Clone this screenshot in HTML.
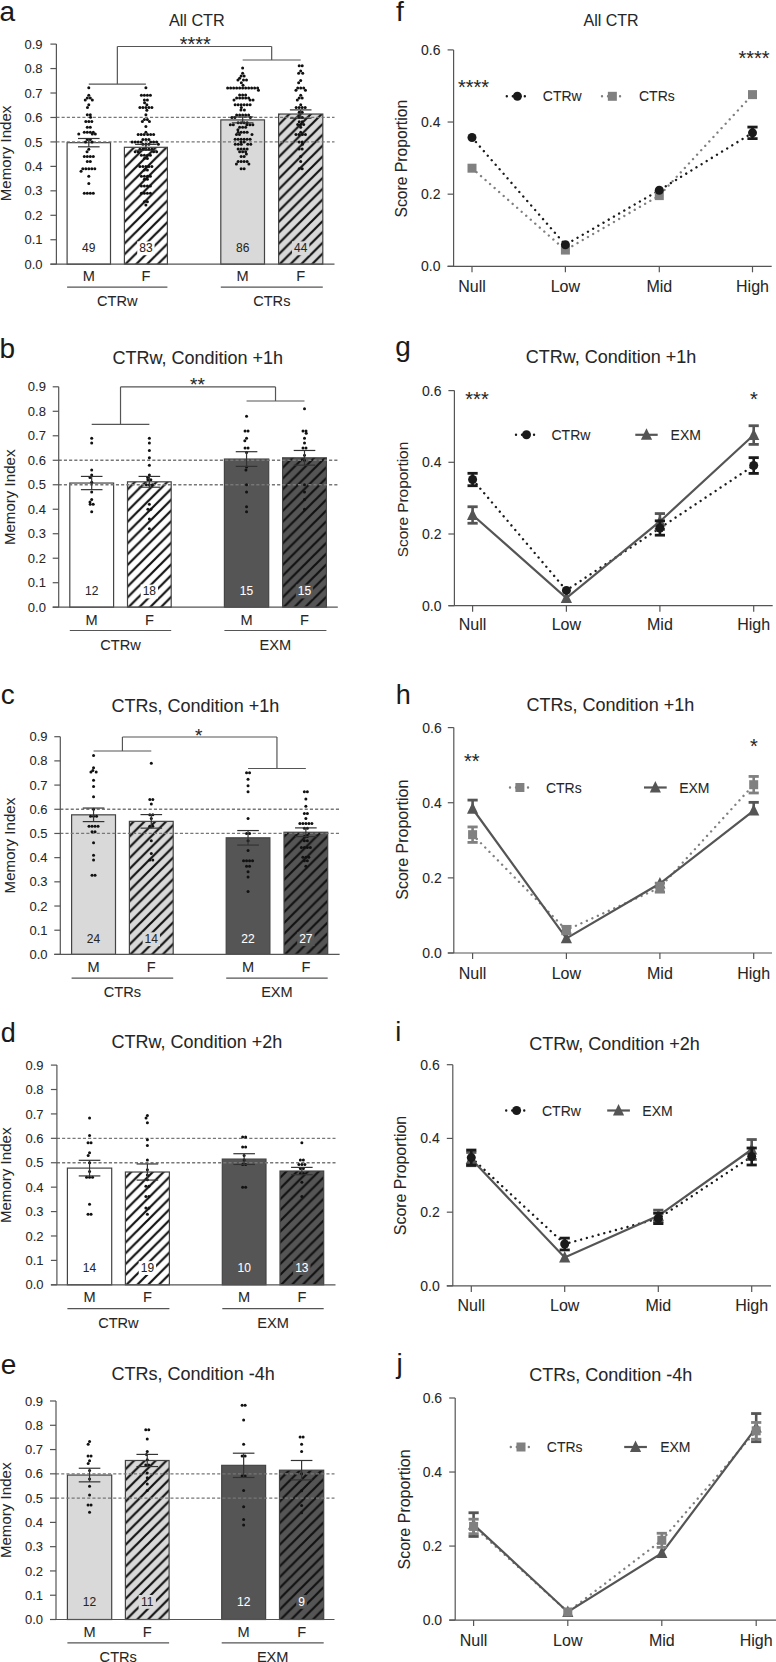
<!DOCTYPE html>
<html><head><meta charset="utf-8"><style>
html,body{margin:0;padding:0;background:#fff;}
svg{display:block;font-family:"Liberation Sans", sans-serif;}
</style></head><body>
<svg width="776" height="1662" viewBox="0 0 776 1662">
<defs>
<pattern id="hatch" patternUnits="userSpaceOnUse" width="10.8" height="10.8">
<path d="M-2.7,2.7 L2.7,-2.7 M0,10.8 L10.8,0 M8.1,13.5 L13.5,8.1" stroke="#111111" stroke-width="1.6"/>
</pattern>
</defs>
<rect width="776" height="1662" fill="#ffffff"/>
<text x="-0.40" y="20.60" font-size="28" text-anchor="start" fill="#1a1a1a" stroke="#1a1a1a" stroke-width="0.06" >a</text>
<text x="168.90" y="26.40" font-size="16.2" text-anchor="start" fill="#262626" stroke="#262626" stroke-width="0.06" >All CTR</text>
<rect x="67.10" y="142.66" width="43.40" height="121.54" fill="#ffffff"/>
<rect x="67.10" y="142.66" width="43.40" height="121.54" fill="none" stroke="#444444" stroke-width="1.2"/>
<rect x="124.40" y="147.30" width="43.00" height="116.90" fill="#ffffff"/>
<defs><pattern id="ha1" patternUnits="userSpaceOnUse" width="10.8" height="10.8" patternTransform="translate(124.40,265.20)"><path d="M-2.7,2.7 L2.7,-2.7 M0,10.8 L10.8,0 M8.1,13.5 L13.5,8.1" stroke="#111111" stroke-width="2.2"/></pattern></defs>
<rect x="124.40" y="147.30" width="43.00" height="116.90" fill="url(#ha1)"/>
<rect x="124.40" y="147.30" width="43.00" height="116.90" fill="none" stroke="#444444" stroke-width="1.2"/>
<rect x="220.80" y="119.91" width="43.70" height="144.29" fill="#d9d9d9"/>
<rect x="220.80" y="119.91" width="43.70" height="144.29" fill="none" stroke="#444444" stroke-width="1.2"/>
<rect x="278.60" y="114.04" width="44.20" height="150.16" fill="#d9d9d9"/>
<defs><pattern id="ha3" patternUnits="userSpaceOnUse" width="10.8" height="10.8" patternTransform="translate(278.60,265.20)"><path d="M-2.7,2.7 L2.7,-2.7 M0,10.8 L10.8,0 M8.1,13.5 L13.5,8.1" stroke="#111111" stroke-width="2.2"/></pattern></defs>
<rect x="278.60" y="114.04" width="44.20" height="150.16" fill="url(#ha3)"/>
<rect x="278.60" y="114.04" width="44.20" height="150.16" fill="none" stroke="#444444" stroke-width="1.2"/>
<line x1="56.40" y1="141.92" x2="334.50" y2="141.92" stroke="#777777" stroke-width="1.3" stroke-dasharray="3.1 2.1"/>
<line x1="56.40" y1="117.47" x2="334.50" y2="117.47" stroke="#777777" stroke-width="1.3" stroke-dasharray="3.1 2.1"/>
<circle cx="88.80" cy="87.63" r="1.5" fill="#111111"/>
<circle cx="88.80" cy="95.21" r="1.5" fill="#111111"/>
<circle cx="87.30" cy="97.90" r="1.5" fill="#111111"/>
<circle cx="90.30" cy="97.90" r="1.5" fill="#111111"/>
<circle cx="85.26" cy="100.10" r="1.5" fill="#111111"/>
<circle cx="92.34" cy="100.10" r="1.5" fill="#111111"/>
<circle cx="88.80" cy="104.75" r="1.5" fill="#111111"/>
<circle cx="87.47" cy="107.44" r="1.5" fill="#111111"/>
<circle cx="90.30" cy="114.78" r="1.5" fill="#111111"/>
<circle cx="87.30" cy="114.78" r="1.5" fill="#111111"/>
<circle cx="90.54" cy="117.22" r="1.5" fill="#111111"/>
<circle cx="88.80" cy="121.62" r="1.5" fill="#111111"/>
<circle cx="85.80" cy="121.62" r="1.5" fill="#111111"/>
<circle cx="91.80" cy="121.62" r="1.5" fill="#111111"/>
<circle cx="90.30" cy="127.25" r="1.5" fill="#111111"/>
<circle cx="87.30" cy="127.25" r="1.5" fill="#111111"/>
<circle cx="90.30" cy="132.14" r="1.5" fill="#111111"/>
<circle cx="87.30" cy="132.14" r="1.5" fill="#111111"/>
<circle cx="93.30" cy="132.14" r="1.5" fill="#111111"/>
<circle cx="84.30" cy="132.14" r="1.5" fill="#111111"/>
<circle cx="92.32" cy="134.10" r="1.5" fill="#111111"/>
<circle cx="78.77" cy="134.10" r="1.5" fill="#111111"/>
<circle cx="95.32" cy="134.10" r="1.5" fill="#111111"/>
<circle cx="90.30" cy="139.48" r="1.5" fill="#111111"/>
<circle cx="87.30" cy="139.48" r="1.5" fill="#111111"/>
<circle cx="92.04" cy="141.92" r="1.5" fill="#111111"/>
<circle cx="85.56" cy="141.92" r="1.5" fill="#111111"/>
<circle cx="88.80" cy="149.26" r="1.5" fill="#111111"/>
<circle cx="87.06" cy="151.70" r="1.5" fill="#111111"/>
<circle cx="90.30" cy="156.60" r="1.5" fill="#111111"/>
<circle cx="87.30" cy="156.60" r="1.5" fill="#111111"/>
<circle cx="93.30" cy="156.60" r="1.5" fill="#111111"/>
<circle cx="84.30" cy="156.60" r="1.5" fill="#111111"/>
<circle cx="90.30" cy="161.49" r="1.5" fill="#111111"/>
<circle cx="87.30" cy="161.49" r="1.5" fill="#111111"/>
<circle cx="88.80" cy="168.82" r="1.5" fill="#111111"/>
<circle cx="85.80" cy="168.82" r="1.5" fill="#111111"/>
<circle cx="91.80" cy="168.82" r="1.5" fill="#111111"/>
<circle cx="82.80" cy="168.82" r="1.5" fill="#111111"/>
<circle cx="94.80" cy="168.82" r="1.5" fill="#111111"/>
<circle cx="81.06" cy="171.27" r="1.5" fill="#111111"/>
<circle cx="88.80" cy="176.16" r="1.5" fill="#111111"/>
<circle cx="88.80" cy="183.50" r="1.5" fill="#111111"/>
<circle cx="90.30" cy="193.28" r="1.5" fill="#111111"/>
<circle cx="87.30" cy="193.28" r="1.5" fill="#111111"/>
<circle cx="93.30" cy="193.28" r="1.5" fill="#111111"/>
<circle cx="84.30" cy="193.28" r="1.5" fill="#111111"/>
<circle cx="145.90" cy="87.63" r="1.5" fill="#111111"/>
<circle cx="147.40" cy="95.21" r="1.5" fill="#111111"/>
<circle cx="144.40" cy="95.21" r="1.5" fill="#111111"/>
<circle cx="150.40" cy="95.21" r="1.5" fill="#111111"/>
<circle cx="141.40" cy="95.21" r="1.5" fill="#111111"/>
<circle cx="147.40" cy="100.10" r="1.5" fill="#111111"/>
<circle cx="144.40" cy="100.10" r="1.5" fill="#111111"/>
<circle cx="144.57" cy="102.79" r="1.5" fill="#111111"/>
<circle cx="146.85" cy="104.75" r="1.5" fill="#111111"/>
<circle cx="145.90" cy="107.44" r="1.5" fill="#111111"/>
<circle cx="148.90" cy="107.44" r="1.5" fill="#111111"/>
<circle cx="142.90" cy="107.44" r="1.5" fill="#111111"/>
<circle cx="151.90" cy="107.44" r="1.5" fill="#111111"/>
<circle cx="139.90" cy="107.44" r="1.5" fill="#111111"/>
<circle cx="146.85" cy="110.13" r="1.5" fill="#111111"/>
<circle cx="145.90" cy="114.78" r="1.5" fill="#111111"/>
<circle cx="147.40" cy="119.42" r="1.5" fill="#111111"/>
<circle cx="144.40" cy="119.42" r="1.5" fill="#111111"/>
<circle cx="149.44" cy="121.62" r="1.5" fill="#111111"/>
<circle cx="142.36" cy="121.62" r="1.5" fill="#111111"/>
<circle cx="145.90" cy="126.52" r="1.5" fill="#111111"/>
<circle cx="145.90" cy="132.14" r="1.5" fill="#111111"/>
<circle cx="144.16" cy="134.59" r="1.5" fill="#111111"/>
<circle cx="147.64" cy="134.59" r="1.5" fill="#111111"/>
<circle cx="141.16" cy="134.59" r="1.5" fill="#111111"/>
<circle cx="150.64" cy="134.59" r="1.5" fill="#111111"/>
<circle cx="138.16" cy="134.59" r="1.5" fill="#111111"/>
<circle cx="153.64" cy="134.59" r="1.5" fill="#111111"/>
<circle cx="145.90" cy="139.48" r="1.5" fill="#111111"/>
<circle cx="142.90" cy="139.48" r="1.5" fill="#111111"/>
<circle cx="148.90" cy="139.48" r="1.5" fill="#111111"/>
<circle cx="141.16" cy="141.92" r="1.5" fill="#111111"/>
<circle cx="150.64" cy="141.92" r="1.5" fill="#111111"/>
<circle cx="138.16" cy="141.92" r="1.5" fill="#111111"/>
<circle cx="153.64" cy="141.92" r="1.5" fill="#111111"/>
<circle cx="135.16" cy="141.92" r="1.5" fill="#111111"/>
<circle cx="156.64" cy="141.92" r="1.5" fill="#111111"/>
<circle cx="132.16" cy="141.92" r="1.5" fill="#111111"/>
<circle cx="145.90" cy="144.37" r="1.5" fill="#111111"/>
<circle cx="142.90" cy="144.37" r="1.5" fill="#111111"/>
<circle cx="148.90" cy="144.37" r="1.5" fill="#111111"/>
<circle cx="158.38" cy="144.37" r="1.5" fill="#111111"/>
<circle cx="145.90" cy="149.26" r="1.5" fill="#111111"/>
<circle cx="142.90" cy="149.26" r="1.5" fill="#111111"/>
<circle cx="148.90" cy="149.26" r="1.5" fill="#111111"/>
<circle cx="139.90" cy="149.26" r="1.5" fill="#111111"/>
<circle cx="151.90" cy="149.26" r="1.5" fill="#111111"/>
<circle cx="138.16" cy="151.70" r="1.5" fill="#111111"/>
<circle cx="153.64" cy="151.70" r="1.5" fill="#111111"/>
<circle cx="135.16" cy="151.70" r="1.5" fill="#111111"/>
<circle cx="156.64" cy="151.70" r="1.5" fill="#111111"/>
<circle cx="147.40" cy="155.37" r="1.5" fill="#111111"/>
<circle cx="144.40" cy="155.37" r="1.5" fill="#111111"/>
<circle cx="150.40" cy="155.37" r="1.5" fill="#111111"/>
<circle cx="141.40" cy="155.37" r="1.5" fill="#111111"/>
<circle cx="147.40" cy="158.55" r="1.5" fill="#111111"/>
<circle cx="144.40" cy="158.55" r="1.5" fill="#111111"/>
<circle cx="145.90" cy="166.38" r="1.5" fill="#111111"/>
<circle cx="142.90" cy="166.38" r="1.5" fill="#111111"/>
<circle cx="148.90" cy="166.38" r="1.5" fill="#111111"/>
<circle cx="139.90" cy="166.38" r="1.5" fill="#111111"/>
<circle cx="151.90" cy="166.38" r="1.5" fill="#111111"/>
<circle cx="147.40" cy="170.05" r="1.5" fill="#111111"/>
<circle cx="144.40" cy="170.05" r="1.5" fill="#111111"/>
<circle cx="147.40" cy="176.16" r="1.5" fill="#111111"/>
<circle cx="144.40" cy="176.16" r="1.5" fill="#111111"/>
<circle cx="150.40" cy="176.16" r="1.5" fill="#111111"/>
<circle cx="141.40" cy="176.16" r="1.5" fill="#111111"/>
<circle cx="147.40" cy="179.34" r="1.5" fill="#111111"/>
<circle cx="144.40" cy="179.34" r="1.5" fill="#111111"/>
<circle cx="147.40" cy="185.94" r="1.5" fill="#111111"/>
<circle cx="144.40" cy="185.94" r="1.5" fill="#111111"/>
<circle cx="150.40" cy="185.94" r="1.5" fill="#111111"/>
<circle cx="141.40" cy="185.94" r="1.5" fill="#111111"/>
<circle cx="147.40" cy="193.28" r="1.5" fill="#111111"/>
<circle cx="144.40" cy="193.28" r="1.5" fill="#111111"/>
<circle cx="150.40" cy="193.28" r="1.5" fill="#111111"/>
<circle cx="141.40" cy="193.28" r="1.5" fill="#111111"/>
<circle cx="147.40" cy="201.84" r="1.5" fill="#111111"/>
<circle cx="144.40" cy="201.84" r="1.5" fill="#111111"/>
<circle cx="145.90" cy="205.02" r="1.5" fill="#111111"/>
<circle cx="242.65" cy="68.07" r="1.5" fill="#111111"/>
<circle cx="242.65" cy="73.20" r="1.5" fill="#111111"/>
<circle cx="241.15" cy="75.89" r="1.5" fill="#111111"/>
<circle cx="244.15" cy="75.89" r="1.5" fill="#111111"/>
<circle cx="239.58" cy="78.34" r="1.5" fill="#111111"/>
<circle cx="243.49" cy="80.05" r="1.5" fill="#111111"/>
<circle cx="246.49" cy="80.05" r="1.5" fill="#111111"/>
<circle cx="237.96" cy="80.05" r="1.5" fill="#111111"/>
<circle cx="241.32" cy="82.74" r="1.5" fill="#111111"/>
<circle cx="243.06" cy="85.19" r="1.5" fill="#111111"/>
<circle cx="242.65" cy="87.88" r="1.5" fill="#111111"/>
<circle cx="245.65" cy="87.88" r="1.5" fill="#111111"/>
<circle cx="239.65" cy="87.88" r="1.5" fill="#111111"/>
<circle cx="248.65" cy="87.88" r="1.5" fill="#111111"/>
<circle cx="236.65" cy="87.88" r="1.5" fill="#111111"/>
<circle cx="251.65" cy="87.88" r="1.5" fill="#111111"/>
<circle cx="233.65" cy="87.88" r="1.5" fill="#111111"/>
<circle cx="254.65" cy="87.88" r="1.5" fill="#111111"/>
<circle cx="230.65" cy="87.88" r="1.5" fill="#111111"/>
<circle cx="257.65" cy="87.88" r="1.5" fill="#111111"/>
<circle cx="227.65" cy="87.88" r="1.5" fill="#111111"/>
<circle cx="258.47" cy="90.32" r="1.5" fill="#111111"/>
<circle cx="242.65" cy="94.97" r="1.5" fill="#111111"/>
<circle cx="239.65" cy="94.97" r="1.5" fill="#111111"/>
<circle cx="245.65" cy="94.97" r="1.5" fill="#111111"/>
<circle cx="242.65" cy="97.90" r="1.5" fill="#111111"/>
<circle cx="245.65" cy="97.90" r="1.5" fill="#111111"/>
<circle cx="239.65" cy="97.90" r="1.5" fill="#111111"/>
<circle cx="248.65" cy="97.90" r="1.5" fill="#111111"/>
<circle cx="236.65" cy="97.90" r="1.5" fill="#111111"/>
<circle cx="250.07" cy="100.10" r="1.5" fill="#111111"/>
<circle cx="233.99" cy="100.10" r="1.5" fill="#111111"/>
<circle cx="253.07" cy="100.10" r="1.5" fill="#111111"/>
<circle cx="244.15" cy="104.75" r="1.5" fill="#111111"/>
<circle cx="241.15" cy="104.75" r="1.5" fill="#111111"/>
<circle cx="247.15" cy="104.75" r="1.5" fill="#111111"/>
<circle cx="238.15" cy="104.75" r="1.5" fill="#111111"/>
<circle cx="250.15" cy="104.75" r="1.5" fill="#111111"/>
<circle cx="235.15" cy="104.75" r="1.5" fill="#111111"/>
<circle cx="241.32" cy="107.44" r="1.5" fill="#111111"/>
<circle cx="244.39" cy="109.89" r="1.5" fill="#111111"/>
<circle cx="240.91" cy="109.89" r="1.5" fill="#111111"/>
<circle cx="242.65" cy="115.02" r="1.5" fill="#111111"/>
<circle cx="239.65" cy="115.02" r="1.5" fill="#111111"/>
<circle cx="245.65" cy="115.02" r="1.5" fill="#111111"/>
<circle cx="236.65" cy="115.02" r="1.5" fill="#111111"/>
<circle cx="248.65" cy="115.02" r="1.5" fill="#111111"/>
<circle cx="234.91" cy="117.47" r="1.5" fill="#111111"/>
<circle cx="250.39" cy="117.47" r="1.5" fill="#111111"/>
<circle cx="231.91" cy="117.47" r="1.5" fill="#111111"/>
<circle cx="244.15" cy="122.85" r="1.5" fill="#111111"/>
<circle cx="241.15" cy="122.85" r="1.5" fill="#111111"/>
<circle cx="247.15" cy="122.85" r="1.5" fill="#111111"/>
<circle cx="238.15" cy="122.85" r="1.5" fill="#111111"/>
<circle cx="246.87" cy="124.80" r="1.5" fill="#111111"/>
<circle cx="233.32" cy="124.80" r="1.5" fill="#111111"/>
<circle cx="249.87" cy="124.80" r="1.5" fill="#111111"/>
<circle cx="230.32" cy="124.80" r="1.5" fill="#111111"/>
<circle cx="252.87" cy="124.80" r="1.5" fill="#111111"/>
<circle cx="242.65" cy="127.25" r="1.5" fill="#111111"/>
<circle cx="239.65" cy="127.25" r="1.5" fill="#111111"/>
<circle cx="245.65" cy="127.25" r="1.5" fill="#111111"/>
<circle cx="237.91" cy="129.69" r="1.5" fill="#111111"/>
<circle cx="241.15" cy="132.14" r="1.5" fill="#111111"/>
<circle cx="238.15" cy="132.14" r="1.5" fill="#111111"/>
<circle cx="244.15" cy="132.14" r="1.5" fill="#111111"/>
<circle cx="247.15" cy="132.14" r="1.5" fill="#111111"/>
<circle cx="239.49" cy="134.59" r="1.5" fill="#111111"/>
<circle cx="236.49" cy="134.59" r="1.5" fill="#111111"/>
<circle cx="251.97" cy="134.59" r="1.5" fill="#111111"/>
<circle cx="244.15" cy="139.23" r="1.5" fill="#111111"/>
<circle cx="241.15" cy="139.23" r="1.5" fill="#111111"/>
<circle cx="247.15" cy="139.23" r="1.5" fill="#111111"/>
<circle cx="238.15" cy="139.23" r="1.5" fill="#111111"/>
<circle cx="250.15" cy="139.23" r="1.5" fill="#111111"/>
<circle cx="235.15" cy="139.23" r="1.5" fill="#111111"/>
<circle cx="241.15" cy="141.92" r="1.5" fill="#111111"/>
<circle cx="244.15" cy="141.92" r="1.5" fill="#111111"/>
<circle cx="241.26" cy="144.37" r="1.5" fill="#111111"/>
<circle cx="247.74" cy="144.37" r="1.5" fill="#111111"/>
<circle cx="238.26" cy="144.37" r="1.5" fill="#111111"/>
<circle cx="250.74" cy="144.37" r="1.5" fill="#111111"/>
<circle cx="235.26" cy="144.37" r="1.5" fill="#111111"/>
<circle cx="244.15" cy="149.01" r="1.5" fill="#111111"/>
<circle cx="241.15" cy="149.01" r="1.5" fill="#111111"/>
<circle cx="247.15" cy="149.01" r="1.5" fill="#111111"/>
<circle cx="238.15" cy="149.01" r="1.5" fill="#111111"/>
<circle cx="242.65" cy="151.70" r="1.5" fill="#111111"/>
<circle cx="245.65" cy="151.70" r="1.5" fill="#111111"/>
<circle cx="239.65" cy="151.70" r="1.5" fill="#111111"/>
<circle cx="246.36" cy="153.91" r="1.5" fill="#111111"/>
<circle cx="244.15" cy="156.60" r="1.5" fill="#111111"/>
<circle cx="241.15" cy="156.60" r="1.5" fill="#111111"/>
<circle cx="244.15" cy="161.49" r="1.5" fill="#111111"/>
<circle cx="241.15" cy="161.49" r="1.5" fill="#111111"/>
<circle cx="247.15" cy="161.49" r="1.5" fill="#111111"/>
<circle cx="238.15" cy="161.49" r="1.5" fill="#111111"/>
<circle cx="248.89" cy="163.93" r="1.5" fill="#111111"/>
<circle cx="236.41" cy="163.93" r="1.5" fill="#111111"/>
<circle cx="244.15" cy="168.82" r="1.5" fill="#111111"/>
<circle cx="241.15" cy="168.82" r="1.5" fill="#111111"/>
<circle cx="302.20" cy="65.87" r="1.5" fill="#111111"/>
<circle cx="299.20" cy="65.87" r="1.5" fill="#111111"/>
<circle cx="300.70" cy="71.00" r="1.5" fill="#111111"/>
<circle cx="298.66" cy="73.20" r="1.5" fill="#111111"/>
<circle cx="302.74" cy="73.20" r="1.5" fill="#111111"/>
<circle cx="300.70" cy="80.54" r="1.5" fill="#111111"/>
<circle cx="298.66" cy="82.74" r="1.5" fill="#111111"/>
<circle cx="300.70" cy="87.88" r="1.5" fill="#111111"/>
<circle cx="297.70" cy="87.88" r="1.5" fill="#111111"/>
<circle cx="303.70" cy="87.88" r="1.5" fill="#111111"/>
<circle cx="295.96" cy="90.32" r="1.5" fill="#111111"/>
<circle cx="305.44" cy="90.32" r="1.5" fill="#111111"/>
<circle cx="300.70" cy="95.21" r="1.5" fill="#111111"/>
<circle cx="299.20" cy="97.90" r="1.5" fill="#111111"/>
<circle cx="302.20" cy="97.90" r="1.5" fill="#111111"/>
<circle cx="297.33" cy="100.10" r="1.5" fill="#111111"/>
<circle cx="300.70" cy="104.75" r="1.5" fill="#111111"/>
<circle cx="299.20" cy="107.44" r="1.5" fill="#111111"/>
<circle cx="302.20" cy="107.44" r="1.5" fill="#111111"/>
<circle cx="296.20" cy="107.44" r="1.5" fill="#111111"/>
<circle cx="305.20" cy="107.44" r="1.5" fill="#111111"/>
<circle cx="302.20" cy="112.33" r="1.5" fill="#111111"/>
<circle cx="299.20" cy="112.33" r="1.5" fill="#111111"/>
<circle cx="302.20" cy="117.47" r="1.5" fill="#111111"/>
<circle cx="299.20" cy="117.47" r="1.5" fill="#111111"/>
<circle cx="302.20" cy="121.87" r="1.5" fill="#111111"/>
<circle cx="299.20" cy="121.87" r="1.5" fill="#111111"/>
<circle cx="300.70" cy="124.56" r="1.5" fill="#111111"/>
<circle cx="303.70" cy="124.56" r="1.5" fill="#111111"/>
<circle cx="297.70" cy="124.56" r="1.5" fill="#111111"/>
<circle cx="300.70" cy="127.25" r="1.5" fill="#111111"/>
<circle cx="300.70" cy="132.14" r="1.5" fill="#111111"/>
<circle cx="298.96" cy="134.59" r="1.5" fill="#111111"/>
<circle cx="302.44" cy="134.59" r="1.5" fill="#111111"/>
<circle cx="295.96" cy="134.59" r="1.5" fill="#111111"/>
<circle cx="305.44" cy="134.59" r="1.5" fill="#111111"/>
<circle cx="302.20" cy="141.92" r="1.5" fill="#111111"/>
<circle cx="299.20" cy="141.92" r="1.5" fill="#111111"/>
<circle cx="302.44" cy="144.37" r="1.5" fill="#111111"/>
<circle cx="302.20" cy="149.01" r="1.5" fill="#111111"/>
<circle cx="299.20" cy="149.01" r="1.5" fill="#111111"/>
<circle cx="300.70" cy="156.60" r="1.5" fill="#111111"/>
<circle cx="300.70" cy="161.49" r="1.5" fill="#111111"/>
<circle cx="302.20" cy="168.82" r="1.5" fill="#111111"/>
<circle cx="299.20" cy="168.82" r="1.5" fill="#111111"/>
<line x1="88.80" y1="138.50" x2="88.80" y2="146.81" stroke="#333333" stroke-width="1.2" />
<line x1="78.00" y1="138.50" x2="99.60" y2="138.50" stroke="#333333" stroke-width="1.2" />
<line x1="78.00" y1="146.81" x2="99.60" y2="146.81" stroke="#333333" stroke-width="1.2" />
<line x1="145.90" y1="144.37" x2="145.90" y2="150.24" stroke="#333333" stroke-width="1.2" />
<line x1="135.10" y1="144.37" x2="156.70" y2="144.37" stroke="#333333" stroke-width="1.2" />
<line x1="135.10" y1="150.24" x2="156.70" y2="150.24" stroke="#333333" stroke-width="1.2" />
<line x1="242.65" y1="116.98" x2="242.65" y2="122.85" stroke="#333333" stroke-width="1.2" />
<line x1="231.85" y1="116.98" x2="253.45" y2="116.98" stroke="#333333" stroke-width="1.2" />
<line x1="231.85" y1="122.85" x2="253.45" y2="122.85" stroke="#333333" stroke-width="1.2" />
<line x1="300.70" y1="109.89" x2="300.70" y2="118.20" stroke="#333333" stroke-width="1.2" />
<line x1="289.90" y1="109.89" x2="311.50" y2="109.89" stroke="#333333" stroke-width="1.2" />
<line x1="289.90" y1="118.20" x2="311.50" y2="118.20" stroke="#333333" stroke-width="1.2" />
<text x="88.80" y="252.20" font-size="12" text-anchor="middle" fill="#262626" stroke="#262626" stroke-width="0.06" >49</text>
<rect x="137.23" y="241.40" width="17.34" height="13.80" fill="#ffffff"/>
<text x="145.90" y="252.20" font-size="12" text-anchor="middle" fill="#262626" stroke="#262626" stroke-width="0.06" >83</text>
<text x="242.65" y="252.20" font-size="12" text-anchor="middle" fill="#262626" stroke="#262626" stroke-width="0.06" >86</text>
<rect x="292.03" y="241.40" width="17.34" height="13.80" fill="#d9d9d9"/>
<text x="300.70" y="252.20" font-size="12" text-anchor="middle" fill="#262626" stroke="#262626" stroke-width="0.06" >44</text>
<line x1="56.40" y1="44.10" x2="56.40" y2="264.20" stroke="#555555" stroke-width="1.2" />
<line x1="50.40" y1="264.20" x2="56.40" y2="264.20" stroke="#555555" stroke-width="1.2" />
<text x="42.50" y="268.80" font-size="13" text-anchor="end" fill="#262626" stroke="#262626" stroke-width="0.06" >0.0</text>
<line x1="50.40" y1="239.74" x2="56.40" y2="239.74" stroke="#555555" stroke-width="1.2" />
<text x="42.50" y="244.34" font-size="13" text-anchor="end" fill="#262626" stroke="#262626" stroke-width="0.06" >0.1</text>
<line x1="50.40" y1="215.29" x2="56.40" y2="215.29" stroke="#555555" stroke-width="1.2" />
<text x="42.50" y="219.89" font-size="13" text-anchor="end" fill="#262626" stroke="#262626" stroke-width="0.06" >0.2</text>
<line x1="50.40" y1="190.83" x2="56.40" y2="190.83" stroke="#555555" stroke-width="1.2" />
<text x="42.50" y="195.43" font-size="13" text-anchor="end" fill="#262626" stroke="#262626" stroke-width="0.06" >0.3</text>
<line x1="50.40" y1="166.38" x2="56.40" y2="166.38" stroke="#555555" stroke-width="1.2" />
<text x="42.50" y="170.98" font-size="13" text-anchor="end" fill="#262626" stroke="#262626" stroke-width="0.06" >0.4</text>
<line x1="50.40" y1="141.92" x2="56.40" y2="141.92" stroke="#555555" stroke-width="1.2" />
<text x="42.50" y="146.52" font-size="13" text-anchor="end" fill="#262626" stroke="#262626" stroke-width="0.06" >0.5</text>
<line x1="50.40" y1="117.47" x2="56.40" y2="117.47" stroke="#555555" stroke-width="1.2" />
<text x="42.50" y="122.07" font-size="13" text-anchor="end" fill="#262626" stroke="#262626" stroke-width="0.06" >0.6</text>
<line x1="50.40" y1="93.01" x2="56.40" y2="93.01" stroke="#555555" stroke-width="1.2" />
<text x="42.50" y="97.61" font-size="13" text-anchor="end" fill="#262626" stroke="#262626" stroke-width="0.06" >0.7</text>
<line x1="50.40" y1="68.56" x2="56.40" y2="68.56" stroke="#555555" stroke-width="1.2" />
<text x="42.50" y="73.16" font-size="13" text-anchor="end" fill="#262626" stroke="#262626" stroke-width="0.06" >0.8</text>
<line x1="50.40" y1="44.10" x2="56.40" y2="44.10" stroke="#555555" stroke-width="1.2" />
<text x="42.50" y="48.70" font-size="13" text-anchor="end" fill="#262626" stroke="#262626" stroke-width="0.06" >0.9</text>
<line x1="50.40" y1="264.20" x2="334.50" y2="264.20" stroke="#555555" stroke-width="1.2" />
<text x="88.80" y="281.30" font-size="14.6" text-anchor="middle" fill="#262626" stroke="#262626" stroke-width="0.06" >M</text>
<text x="145.90" y="281.30" font-size="14.6" text-anchor="middle" fill="#262626" stroke="#262626" stroke-width="0.06" >F</text>
<text x="242.65" y="281.30" font-size="14.6" text-anchor="middle" fill="#262626" stroke="#262626" stroke-width="0.06" >M</text>
<text x="300.70" y="281.30" font-size="14.6" text-anchor="middle" fill="#262626" stroke="#262626" stroke-width="0.06" >F</text>
<line x1="67.10" y1="287.20" x2="167.40" y2="287.20" stroke="#555555" stroke-width="1.2" />
<text x="117.25" y="306.00" font-size="14.6" text-anchor="middle" fill="#262626" stroke="#262626" stroke-width="0.06" >CTRw</text>
<line x1="220.80" y1="287.20" x2="322.80" y2="287.20" stroke="#555555" stroke-width="1.2" />
<text x="271.80" y="306.00" font-size="14.6" text-anchor="middle" fill="#262626" stroke="#262626" stroke-width="0.06" >CTRs</text>
<text transform="translate(10.80,153.40) rotate(-90)" font-size="15.1" text-anchor="middle" fill="#262626" stroke="#262626" stroke-width="0.06">Memory Index</text>
<line x1="88.80" y1="84.10" x2="145.90" y2="84.10" stroke="#555555" stroke-width="1.2" />
<line x1="242.65" y1="60.00" x2="300.70" y2="60.00" stroke="#555555" stroke-width="1.2" />
<line x1="117.35" y1="84.10" x2="117.35" y2="46.50" stroke="#555555" stroke-width="1.2" />
<line x1="271.68" y1="60.00" x2="271.68" y2="46.50" stroke="#555555" stroke-width="1.2" />
<line x1="117.35" y1="46.50" x2="271.68" y2="46.50" stroke="#555555" stroke-width="1.2" />
<text x="195.20" y="51.10" font-size="20" text-anchor="middle" fill="#262626" stroke="#262626" stroke-width="0.06" >****</text>
<text x="-0.40" y="357.90" font-size="28" text-anchor="start" fill="#1a1a1a" stroke="#1a1a1a" stroke-width="0.06" >b</text>
<text x="112.40" y="364.00" font-size="18" text-anchor="start" fill="#262626" stroke="#262626" stroke-width="0.06" >CTRw, Condition +1h</text>
<rect x="69.80" y="483.04" width="43.80" height="124.16" fill="#ffffff"/>
<rect x="69.80" y="483.04" width="43.80" height="124.16" fill="none" stroke="#444444" stroke-width="1.2"/>
<rect x="127.50" y="481.82" width="43.70" height="125.38" fill="#ffffff"/>
<defs><pattern id="hb1" patternUnits="userSpaceOnUse" width="10.8" height="10.8" patternTransform="translate(127.50,608.20)"><path d="M-2.7,2.7 L2.7,-2.7 M0,10.8 L10.8,0 M8.1,13.5 L13.5,8.1" stroke="#111111" stroke-width="2.2"/></pattern></defs>
<rect x="127.50" y="481.82" width="43.70" height="125.38" fill="url(#hb1)"/>
<rect x="127.50" y="481.82" width="43.70" height="125.38" fill="none" stroke="#444444" stroke-width="1.2"/>
<rect x="224.40" y="459.04" width="44.30" height="148.16" fill="#555555"/>
<rect x="224.40" y="459.04" width="44.30" height="148.16" fill="none" stroke="#444444" stroke-width="1.2"/>
<rect x="282.60" y="457.82" width="43.80" height="149.38" fill="#555555"/>
<defs><pattern id="hb3" patternUnits="userSpaceOnUse" width="10.8" height="10.8" patternTransform="translate(282.60,608.20)"><path d="M-2.7,2.7 L2.7,-2.7 M0,10.8 L10.8,0 M8.1,13.5 L13.5,8.1" stroke="#111111" stroke-width="2.2"/></pattern></defs>
<rect x="282.60" y="457.82" width="43.80" height="149.38" fill="url(#hb3)"/>
<rect x="282.60" y="457.82" width="43.80" height="149.38" fill="none" stroke="#444444" stroke-width="1.2"/>
<line x1="58.70" y1="484.76" x2="337.80" y2="484.76" stroke="#777777" stroke-width="1.3" stroke-dasharray="3.1 2.1"/>
<line x1="58.70" y1="460.27" x2="337.80" y2="460.27" stroke="#777777" stroke-width="1.3" stroke-dasharray="3.1 2.1"/>
<circle cx="91.70" cy="438.23" r="1.5" fill="#111111"/>
<circle cx="91.70" cy="443.12" r="1.5" fill="#111111"/>
<circle cx="91.70" cy="470.06" r="1.5" fill="#111111"/>
<circle cx="91.70" cy="474.96" r="1.5" fill="#111111"/>
<circle cx="89.97" cy="477.41" r="1.5" fill="#111111"/>
<circle cx="91.70" cy="482.31" r="1.5" fill="#111111"/>
<circle cx="91.70" cy="492.10" r="1.5" fill="#111111"/>
<circle cx="91.70" cy="499.45" r="1.5" fill="#111111"/>
<circle cx="89.97" cy="501.90" r="1.5" fill="#111111"/>
<circle cx="90.20" cy="504.35" r="1.5" fill="#111111"/>
<circle cx="93.20" cy="504.35" r="1.5" fill="#111111"/>
<circle cx="91.70" cy="511.69" r="1.5" fill="#111111"/>
<circle cx="149.35" cy="438.23" r="1.5" fill="#111111"/>
<circle cx="149.35" cy="443.12" r="1.5" fill="#111111"/>
<circle cx="149.35" cy="450.47" r="1.5" fill="#111111"/>
<circle cx="149.35" cy="457.82" r="1.5" fill="#111111"/>
<circle cx="149.35" cy="465.16" r="1.5" fill="#111111"/>
<circle cx="149.35" cy="474.96" r="1.5" fill="#111111"/>
<circle cx="147.62" cy="477.41" r="1.5" fill="#111111"/>
<circle cx="147.85" cy="479.86" r="1.5" fill="#111111"/>
<circle cx="150.85" cy="479.86" r="1.5" fill="#111111"/>
<circle cx="149.35" cy="484.76" r="1.5" fill="#111111"/>
<circle cx="146.35" cy="484.76" r="1.5" fill="#111111"/>
<circle cx="152.35" cy="484.76" r="1.5" fill="#111111"/>
<circle cx="149.35" cy="504.35" r="1.5" fill="#111111"/>
<circle cx="150.85" cy="509.24" r="1.5" fill="#111111"/>
<circle cx="147.85" cy="509.24" r="1.5" fill="#111111"/>
<circle cx="149.35" cy="519.04" r="1.5" fill="#111111"/>
<circle cx="149.35" cy="528.84" r="1.5" fill="#111111"/>
<circle cx="246.55" cy="416.19" r="1.5" fill="#111111"/>
<circle cx="248.05" cy="430.88" r="1.5" fill="#111111"/>
<circle cx="245.05" cy="430.88" r="1.5" fill="#111111"/>
<circle cx="246.55" cy="438.23" r="1.5" fill="#111111"/>
<circle cx="244.82" cy="440.68" r="1.5" fill="#111111"/>
<circle cx="248.05" cy="448.02" r="1.5" fill="#111111"/>
<circle cx="245.05" cy="448.02" r="1.5" fill="#111111"/>
<circle cx="246.55" cy="452.43" r="1.5" fill="#111111"/>
<circle cx="246.55" cy="467.12" r="1.5" fill="#111111"/>
<circle cx="245.95" cy="470.06" r="1.5" fill="#111111"/>
<circle cx="246.55" cy="484.76" r="1.5" fill="#111111"/>
<circle cx="246.55" cy="492.10" r="1.5" fill="#111111"/>
<circle cx="246.55" cy="506.80" r="1.5" fill="#111111"/>
<circle cx="246.55" cy="511.69" r="1.5" fill="#111111"/>
<circle cx="304.50" cy="408.84" r="1.5" fill="#111111"/>
<circle cx="306.00" cy="430.88" r="1.5" fill="#111111"/>
<circle cx="303.00" cy="430.88" r="1.5" fill="#111111"/>
<circle cx="306.23" cy="433.33" r="1.5" fill="#111111"/>
<circle cx="304.50" cy="438.23" r="1.5" fill="#111111"/>
<circle cx="304.50" cy="443.12" r="1.5" fill="#111111"/>
<circle cx="306.00" cy="448.02" r="1.5" fill="#111111"/>
<circle cx="303.00" cy="448.02" r="1.5" fill="#111111"/>
<circle cx="304.50" cy="455.37" r="1.5" fill="#111111"/>
<circle cx="304.50" cy="460.27" r="1.5" fill="#111111"/>
<circle cx="304.50" cy="484.76" r="1.5" fill="#111111"/>
<circle cx="304.50" cy="492.10" r="1.5" fill="#111111"/>
<circle cx="304.50" cy="499.45" r="1.5" fill="#111111"/>
<circle cx="304.50" cy="509.24" r="1.5" fill="#111111"/>
<line x1="91.70" y1="476.43" x2="91.70" y2="489.65" stroke="#333333" stroke-width="1.2" />
<line x1="80.90" y1="476.43" x2="102.50" y2="476.43" stroke="#333333" stroke-width="1.2" />
<line x1="80.90" y1="489.65" x2="102.50" y2="489.65" stroke="#333333" stroke-width="1.2" />
<line x1="149.35" y1="476.43" x2="149.35" y2="487.20" stroke="#333333" stroke-width="1.2" />
<line x1="138.55" y1="476.43" x2="160.15" y2="476.43" stroke="#333333" stroke-width="1.2" />
<line x1="138.55" y1="487.20" x2="160.15" y2="487.20" stroke="#333333" stroke-width="1.2" />
<line x1="246.55" y1="451.70" x2="246.55" y2="466.39" stroke="#333333" stroke-width="1.2" />
<line x1="235.75" y1="451.70" x2="257.35" y2="451.70" stroke="#333333" stroke-width="1.2" />
<line x1="235.75" y1="466.39" x2="257.35" y2="466.39" stroke="#333333" stroke-width="1.2" />
<line x1="304.50" y1="450.47" x2="304.50" y2="465.16" stroke="#333333" stroke-width="1.2" />
<line x1="293.70" y1="450.47" x2="315.30" y2="450.47" stroke="#333333" stroke-width="1.2" />
<line x1="293.70" y1="465.16" x2="315.30" y2="465.16" stroke="#333333" stroke-width="1.2" />
<text x="91.70" y="595.40" font-size="12" text-anchor="middle" fill="#262626" stroke="#262626" stroke-width="0.06" >12</text>
<rect x="140.68" y="584.60" width="17.34" height="13.80" fill="#ffffff"/>
<text x="149.35" y="595.40" font-size="12" text-anchor="middle" fill="#262626" stroke="#262626" stroke-width="0.06" >18</text>
<text x="246.55" y="595.40" font-size="12" text-anchor="middle" fill="#ffffff" stroke="#ffffff" stroke-width="0.06" >15</text>
<rect x="295.83" y="584.60" width="17.34" height="13.80" fill="#555555"/>
<text x="304.50" y="595.40" font-size="12" text-anchor="middle" fill="#ffffff" stroke="#ffffff" stroke-width="0.06" >15</text>
<line x1="58.70" y1="386.80" x2="58.70" y2="607.20" stroke="#555555" stroke-width="1.2" />
<line x1="52.70" y1="607.20" x2="58.70" y2="607.20" stroke="#555555" stroke-width="1.2" />
<text x="45.90" y="611.80" font-size="13" text-anchor="end" fill="#262626" stroke="#262626" stroke-width="0.06" >0.0</text>
<line x1="52.70" y1="582.71" x2="58.70" y2="582.71" stroke="#555555" stroke-width="1.2" />
<text x="45.90" y="587.31" font-size="13" text-anchor="end" fill="#262626" stroke="#262626" stroke-width="0.06" >0.1</text>
<line x1="52.70" y1="558.22" x2="58.70" y2="558.22" stroke="#555555" stroke-width="1.2" />
<text x="45.90" y="562.82" font-size="13" text-anchor="end" fill="#262626" stroke="#262626" stroke-width="0.06" >0.2</text>
<line x1="52.70" y1="533.73" x2="58.70" y2="533.73" stroke="#555555" stroke-width="1.2" />
<text x="45.90" y="538.33" font-size="13" text-anchor="end" fill="#262626" stroke="#262626" stroke-width="0.06" >0.3</text>
<line x1="52.70" y1="509.24" x2="58.70" y2="509.24" stroke="#555555" stroke-width="1.2" />
<text x="45.90" y="513.84" font-size="13" text-anchor="end" fill="#262626" stroke="#262626" stroke-width="0.06" >0.4</text>
<line x1="52.70" y1="484.76" x2="58.70" y2="484.76" stroke="#555555" stroke-width="1.2" />
<text x="45.90" y="489.36" font-size="13" text-anchor="end" fill="#262626" stroke="#262626" stroke-width="0.06" >0.5</text>
<line x1="52.70" y1="460.27" x2="58.70" y2="460.27" stroke="#555555" stroke-width="1.2" />
<text x="45.90" y="464.87" font-size="13" text-anchor="end" fill="#262626" stroke="#262626" stroke-width="0.06" >0.6</text>
<line x1="52.70" y1="435.78" x2="58.70" y2="435.78" stroke="#555555" stroke-width="1.2" />
<text x="45.90" y="440.38" font-size="13" text-anchor="end" fill="#262626" stroke="#262626" stroke-width="0.06" >0.7</text>
<line x1="52.70" y1="411.29" x2="58.70" y2="411.29" stroke="#555555" stroke-width="1.2" />
<text x="45.90" y="415.89" font-size="13" text-anchor="end" fill="#262626" stroke="#262626" stroke-width="0.06" >0.8</text>
<line x1="52.70" y1="386.80" x2="58.70" y2="386.80" stroke="#555555" stroke-width="1.2" />
<text x="45.90" y="391.40" font-size="13" text-anchor="end" fill="#262626" stroke="#262626" stroke-width="0.06" >0.9</text>
<line x1="52.70" y1="607.20" x2="337.80" y2="607.20" stroke="#555555" stroke-width="1.2" />
<text x="91.70" y="624.50" font-size="14.6" text-anchor="middle" fill="#262626" stroke="#262626" stroke-width="0.06" >M</text>
<text x="149.35" y="624.50" font-size="14.6" text-anchor="middle" fill="#262626" stroke="#262626" stroke-width="0.06" >F</text>
<text x="246.55" y="624.50" font-size="14.6" text-anchor="middle" fill="#262626" stroke="#262626" stroke-width="0.06" >M</text>
<text x="304.50" y="624.50" font-size="14.6" text-anchor="middle" fill="#262626" stroke="#262626" stroke-width="0.06" >F</text>
<line x1="69.80" y1="630.50" x2="171.20" y2="630.50" stroke="#555555" stroke-width="1.2" />
<text x="120.50" y="649.80" font-size="14.6" text-anchor="middle" fill="#262626" stroke="#262626" stroke-width="0.06" >CTRw</text>
<line x1="224.40" y1="630.50" x2="326.40" y2="630.50" stroke="#555555" stroke-width="1.2" />
<text x="275.40" y="649.80" font-size="14.6" text-anchor="middle" fill="#262626" stroke="#262626" stroke-width="0.06" >EXM</text>
<text transform="translate(15.00,497.30) rotate(-90)" font-size="15.1" text-anchor="middle" fill="#262626" stroke="#262626" stroke-width="0.06">Memory Index</text>
<line x1="91.70" y1="424.30" x2="149.35" y2="424.30" stroke="#555555" stroke-width="1.2" />
<line x1="246.55" y1="401.00" x2="304.50" y2="401.00" stroke="#555555" stroke-width="1.2" />
<line x1="120.52" y1="424.30" x2="120.52" y2="386.90" stroke="#555555" stroke-width="1.2" />
<line x1="275.52" y1="401.00" x2="275.52" y2="386.90" stroke="#555555" stroke-width="1.2" />
<line x1="120.52" y1="386.90" x2="275.52" y2="386.90" stroke="#555555" stroke-width="1.2" />
<text x="197.40" y="391.40" font-size="19" text-anchor="middle" fill="#262626" stroke="#262626" stroke-width="0.06" >**</text>
<text x="0.80" y="704.20" font-size="28" text-anchor="start" fill="#1a1a1a" stroke="#1a1a1a" stroke-width="0.06" >c</text>
<text x="111.60" y="712.20" font-size="18" text-anchor="start" fill="#262626" stroke="#262626" stroke-width="0.06" >CTRs, Condition +1h</text>
<rect x="71.60" y="814.83" width="43.90" height="139.57" fill="#d9d9d9"/>
<rect x="71.60" y="814.83" width="43.90" height="139.57" fill="none" stroke="#444444" stroke-width="1.2"/>
<rect x="129.40" y="821.36" width="43.80" height="133.04" fill="#d9d9d9"/>
<defs><pattern id="hc1" patternUnits="userSpaceOnUse" width="10.8" height="10.8" patternTransform="translate(129.40,955.40)"><path d="M-2.7,2.7 L2.7,-2.7 M0,10.8 L10.8,0 M8.1,13.5 L13.5,8.1" stroke="#111111" stroke-width="2.2"/></pattern></defs>
<rect x="129.40" y="821.36" width="43.80" height="133.04" fill="url(#hc1)"/>
<rect x="129.40" y="821.36" width="43.80" height="133.04" fill="none" stroke="#444444" stroke-width="1.2"/>
<rect x="226.20" y="837.81" width="43.70" height="116.59" fill="#555555"/>
<rect x="226.20" y="837.81" width="43.70" height="116.59" fill="none" stroke="#444444" stroke-width="1.2"/>
<rect x="284.00" y="832.25" width="43.70" height="122.15" fill="#555555"/>
<defs><pattern id="hc3" patternUnits="userSpaceOnUse" width="10.8" height="10.8" patternTransform="translate(284.00,955.40)"><path d="M-2.7,2.7 L2.7,-2.7 M0,10.8 L10.8,0 M8.1,13.5 L13.5,8.1" stroke="#111111" stroke-width="2.2"/></pattern></defs>
<rect x="284.00" y="832.25" width="43.70" height="122.15" fill="url(#hc3)"/>
<rect x="284.00" y="832.25" width="43.70" height="122.15" fill="none" stroke="#444444" stroke-width="1.2"/>
<line x1="60.30" y1="833.46" x2="339.60" y2="833.46" stroke="#777777" stroke-width="1.3" stroke-dasharray="3.1 2.1"/>
<line x1="60.30" y1="809.27" x2="339.60" y2="809.27" stroke="#777777" stroke-width="1.3" stroke-dasharray="3.1 2.1"/>
<circle cx="93.55" cy="755.57" r="1.5" fill="#111111"/>
<circle cx="93.55" cy="767.66" r="1.5" fill="#111111"/>
<circle cx="92.79" cy="770.56" r="1.5" fill="#111111"/>
<circle cx="96.18" cy="772.02" r="1.5" fill="#111111"/>
<circle cx="90.92" cy="772.02" r="1.5" fill="#111111"/>
<circle cx="93.55" cy="780.24" r="1.5" fill="#111111"/>
<circle cx="93.55" cy="786.53" r="1.5" fill="#111111"/>
<circle cx="93.55" cy="796.69" r="1.5" fill="#111111"/>
<circle cx="93.55" cy="809.27" r="1.5" fill="#111111"/>
<circle cx="93.55" cy="816.28" r="1.5" fill="#111111"/>
<circle cx="90.55" cy="816.28" r="1.5" fill="#111111"/>
<circle cx="96.55" cy="816.28" r="1.5" fill="#111111"/>
<circle cx="95.05" cy="826.20" r="1.5" fill="#111111"/>
<circle cx="92.05" cy="826.20" r="1.5" fill="#111111"/>
<circle cx="98.05" cy="826.20" r="1.5" fill="#111111"/>
<circle cx="89.05" cy="826.20" r="1.5" fill="#111111"/>
<circle cx="95.05" cy="831.76" r="1.5" fill="#111111"/>
<circle cx="92.05" cy="831.76" r="1.5" fill="#111111"/>
<circle cx="93.55" cy="842.65" r="1.5" fill="#111111"/>
<circle cx="93.55" cy="855.23" r="1.5" fill="#111111"/>
<circle cx="93.55" cy="860.06" r="1.5" fill="#111111"/>
<circle cx="95.05" cy="875.30" r="1.5" fill="#111111"/>
<circle cx="92.05" cy="875.30" r="1.5" fill="#111111"/>
<circle cx="151.30" cy="763.31" r="1.5" fill="#111111"/>
<circle cx="152.80" cy="799.59" r="1.5" fill="#111111"/>
<circle cx="149.80" cy="799.59" r="1.5" fill="#111111"/>
<circle cx="151.30" cy="803.95" r="1.5" fill="#111111"/>
<circle cx="152.80" cy="814.83" r="1.5" fill="#111111"/>
<circle cx="149.80" cy="814.83" r="1.5" fill="#111111"/>
<circle cx="151.30" cy="818.46" r="1.5" fill="#111111"/>
<circle cx="152.80" cy="826.20" r="1.5" fill="#111111"/>
<circle cx="149.80" cy="826.20" r="1.5" fill="#111111"/>
<circle cx="151.30" cy="840.71" r="1.5" fill="#111111"/>
<circle cx="151.30" cy="853.53" r="1.5" fill="#111111"/>
<circle cx="152.80" cy="860.06" r="1.5" fill="#111111"/>
<circle cx="149.80" cy="860.06" r="1.5" fill="#111111"/>
<circle cx="249.55" cy="772.74" r="1.5" fill="#111111"/>
<circle cx="246.55" cy="772.74" r="1.5" fill="#111111"/>
<circle cx="248.05" cy="779.27" r="1.5" fill="#111111"/>
<circle cx="248.05" cy="785.80" r="1.5" fill="#111111"/>
<circle cx="248.05" cy="791.85" r="1.5" fill="#111111"/>
<circle cx="248.05" cy="818.46" r="1.5" fill="#111111"/>
<circle cx="249.55" cy="833.46" r="1.5" fill="#111111"/>
<circle cx="246.55" cy="833.46" r="1.5" fill="#111111"/>
<circle cx="248.05" cy="840.71" r="1.5" fill="#111111"/>
<circle cx="248.05" cy="850.39" r="1.5" fill="#111111"/>
<circle cx="249.55" cy="860.79" r="1.5" fill="#111111"/>
<circle cx="246.55" cy="860.79" r="1.5" fill="#111111"/>
<circle cx="252.55" cy="860.79" r="1.5" fill="#111111"/>
<circle cx="243.55" cy="860.79" r="1.5" fill="#111111"/>
<circle cx="249.55" cy="866.35" r="1.5" fill="#111111"/>
<circle cx="246.55" cy="866.35" r="1.5" fill="#111111"/>
<circle cx="248.05" cy="871.67" r="1.5" fill="#111111"/>
<circle cx="248.05" cy="877.00" r="1.5" fill="#111111"/>
<circle cx="248.05" cy="891.51" r="1.5" fill="#111111"/>
<circle cx="307.35" cy="791.85" r="1.5" fill="#111111"/>
<circle cx="304.35" cy="791.85" r="1.5" fill="#111111"/>
<circle cx="305.85" cy="799.11" r="1.5" fill="#111111"/>
<circle cx="305.85" cy="806.36" r="1.5" fill="#111111"/>
<circle cx="307.35" cy="813.62" r="1.5" fill="#111111"/>
<circle cx="304.35" cy="813.62" r="1.5" fill="#111111"/>
<circle cx="305.85" cy="818.46" r="1.5" fill="#111111"/>
<circle cx="305.85" cy="823.54" r="1.5" fill="#111111"/>
<circle cx="302.85" cy="823.54" r="1.5" fill="#111111"/>
<circle cx="308.85" cy="823.54" r="1.5" fill="#111111"/>
<circle cx="299.85" cy="823.54" r="1.5" fill="#111111"/>
<circle cx="311.85" cy="823.54" r="1.5" fill="#111111"/>
<circle cx="307.35" cy="828.13" r="1.5" fill="#111111"/>
<circle cx="304.35" cy="828.13" r="1.5" fill="#111111"/>
<circle cx="307.35" cy="836.60" r="1.5" fill="#111111"/>
<circle cx="304.35" cy="836.60" r="1.5" fill="#111111"/>
<circle cx="307.35" cy="840.71" r="1.5" fill="#111111"/>
<circle cx="304.35" cy="840.71" r="1.5" fill="#111111"/>
<circle cx="307.35" cy="847.49" r="1.5" fill="#111111"/>
<circle cx="304.35" cy="847.49" r="1.5" fill="#111111"/>
<circle cx="310.35" cy="847.49" r="1.5" fill="#111111"/>
<circle cx="301.35" cy="847.49" r="1.5" fill="#111111"/>
<circle cx="305.85" cy="857.16" r="1.5" fill="#111111"/>
<circle cx="302.85" cy="857.16" r="1.5" fill="#111111"/>
<circle cx="308.85" cy="857.16" r="1.5" fill="#111111"/>
<circle cx="307.35" cy="860.79" r="1.5" fill="#111111"/>
<circle cx="304.35" cy="860.79" r="1.5" fill="#111111"/>
<circle cx="305.85" cy="866.35" r="1.5" fill="#111111"/>
<line x1="93.55" y1="808.06" x2="93.55" y2="821.60" stroke="#333333" stroke-width="1.2" />
<line x1="82.75" y1="808.06" x2="104.35" y2="808.06" stroke="#333333" stroke-width="1.2" />
<line x1="82.75" y1="821.60" x2="104.35" y2="821.60" stroke="#333333" stroke-width="1.2" />
<line x1="151.30" y1="814.59" x2="151.30" y2="828.13" stroke="#333333" stroke-width="1.2" />
<line x1="140.50" y1="814.59" x2="162.10" y2="814.59" stroke="#333333" stroke-width="1.2" />
<line x1="140.50" y1="828.13" x2="162.10" y2="828.13" stroke="#333333" stroke-width="1.2" />
<line x1="248.05" y1="830.55" x2="248.05" y2="845.07" stroke="#333333" stroke-width="1.2" />
<line x1="237.25" y1="830.55" x2="258.85" y2="830.55" stroke="#333333" stroke-width="1.2" />
<line x1="237.25" y1="845.07" x2="258.85" y2="845.07" stroke="#333333" stroke-width="1.2" />
<line x1="305.85" y1="827.89" x2="305.85" y2="836.60" stroke="#333333" stroke-width="1.2" />
<line x1="295.05" y1="827.89" x2="316.65" y2="827.89" stroke="#333333" stroke-width="1.2" />
<line x1="295.05" y1="836.60" x2="316.65" y2="836.60" stroke="#333333" stroke-width="1.2" />
<text x="93.55" y="943.10" font-size="12" text-anchor="middle" fill="#262626" stroke="#262626" stroke-width="0.06" >24</text>
<rect x="142.63" y="932.30" width="17.34" height="13.80" fill="#d9d9d9"/>
<text x="151.30" y="943.10" font-size="12" text-anchor="middle" fill="#262626" stroke="#262626" stroke-width="0.06" >14</text>
<text x="248.05" y="943.10" font-size="12" text-anchor="middle" fill="#ffffff" stroke="#ffffff" stroke-width="0.06" >22</text>
<rect x="297.18" y="932.30" width="17.34" height="13.80" fill="#555555"/>
<text x="305.85" y="943.10" font-size="12" text-anchor="middle" fill="#ffffff" stroke="#ffffff" stroke-width="0.06" >27</text>
<line x1="60.30" y1="736.70" x2="60.30" y2="954.40" stroke="#555555" stroke-width="1.2" />
<line x1="54.30" y1="954.40" x2="60.30" y2="954.40" stroke="#555555" stroke-width="1.2" />
<text x="47.60" y="959.00" font-size="13" text-anchor="end" fill="#262626" stroke="#262626" stroke-width="0.06" >0.0</text>
<line x1="54.30" y1="930.21" x2="60.30" y2="930.21" stroke="#555555" stroke-width="1.2" />
<text x="47.60" y="934.81" font-size="13" text-anchor="end" fill="#262626" stroke="#262626" stroke-width="0.06" >0.1</text>
<line x1="54.30" y1="906.02" x2="60.30" y2="906.02" stroke="#555555" stroke-width="1.2" />
<text x="47.60" y="910.62" font-size="13" text-anchor="end" fill="#262626" stroke="#262626" stroke-width="0.06" >0.2</text>
<line x1="54.30" y1="881.83" x2="60.30" y2="881.83" stroke="#555555" stroke-width="1.2" />
<text x="47.60" y="886.43" font-size="13" text-anchor="end" fill="#262626" stroke="#262626" stroke-width="0.06" >0.3</text>
<line x1="54.30" y1="857.64" x2="60.30" y2="857.64" stroke="#555555" stroke-width="1.2" />
<text x="47.60" y="862.24" font-size="13" text-anchor="end" fill="#262626" stroke="#262626" stroke-width="0.06" >0.4</text>
<line x1="54.30" y1="833.46" x2="60.30" y2="833.46" stroke="#555555" stroke-width="1.2" />
<text x="47.60" y="838.06" font-size="13" text-anchor="end" fill="#262626" stroke="#262626" stroke-width="0.06" >0.5</text>
<line x1="54.30" y1="809.27" x2="60.30" y2="809.27" stroke="#555555" stroke-width="1.2" />
<text x="47.60" y="813.87" font-size="13" text-anchor="end" fill="#262626" stroke="#262626" stroke-width="0.06" >0.6</text>
<line x1="54.30" y1="785.08" x2="60.30" y2="785.08" stroke="#555555" stroke-width="1.2" />
<text x="47.60" y="789.68" font-size="13" text-anchor="end" fill="#262626" stroke="#262626" stroke-width="0.06" >0.7</text>
<line x1="54.30" y1="760.89" x2="60.30" y2="760.89" stroke="#555555" stroke-width="1.2" />
<text x="47.60" y="765.49" font-size="13" text-anchor="end" fill="#262626" stroke="#262626" stroke-width="0.06" >0.8</text>
<line x1="54.30" y1="736.70" x2="60.30" y2="736.70" stroke="#555555" stroke-width="1.2" />
<text x="47.60" y="741.30" font-size="13" text-anchor="end" fill="#262626" stroke="#262626" stroke-width="0.06" >0.9</text>
<line x1="54.30" y1="954.40" x2="339.60" y2="954.40" stroke="#555555" stroke-width="1.2" />
<text x="93.55" y="972.00" font-size="14.6" text-anchor="middle" fill="#262626" stroke="#262626" stroke-width="0.06" >M</text>
<text x="151.30" y="972.00" font-size="14.6" text-anchor="middle" fill="#262626" stroke="#262626" stroke-width="0.06" >F</text>
<text x="248.05" y="972.00" font-size="14.6" text-anchor="middle" fill="#262626" stroke="#262626" stroke-width="0.06" >M</text>
<text x="305.85" y="972.00" font-size="14.6" text-anchor="middle" fill="#262626" stroke="#262626" stroke-width="0.06" >F</text>
<line x1="71.60" y1="978.10" x2="173.20" y2="978.10" stroke="#555555" stroke-width="1.2" />
<text x="122.40" y="997.30" font-size="14.6" text-anchor="middle" fill="#262626" stroke="#262626" stroke-width="0.06" >CTRs</text>
<line x1="226.20" y1="978.10" x2="327.70" y2="978.10" stroke="#555555" stroke-width="1.2" />
<text x="276.95" y="997.30" font-size="14.6" text-anchor="middle" fill="#262626" stroke="#262626" stroke-width="0.06" >EXM</text>
<text transform="translate(15.30,845.60) rotate(-90)" font-size="15.1" text-anchor="middle" fill="#262626" stroke="#262626" stroke-width="0.06">Memory Index</text>
<line x1="93.55" y1="751.00" x2="151.30" y2="751.00" stroke="#555555" stroke-width="1.2" />
<line x1="248.05" y1="768.50" x2="305.85" y2="768.50" stroke="#555555" stroke-width="1.2" />
<line x1="122.43" y1="751.00" x2="122.43" y2="737.00" stroke="#555555" stroke-width="1.2" />
<line x1="276.95" y1="768.50" x2="276.95" y2="737.00" stroke="#555555" stroke-width="1.2" />
<line x1="122.43" y1="737.00" x2="276.95" y2="737.00" stroke="#555555" stroke-width="1.2" />
<text x="198.60" y="741.70" font-size="19" text-anchor="middle" fill="#262626" stroke="#262626" stroke-width="0.06" >*</text>
<text x="0.80" y="1041.60" font-size="27" text-anchor="start" fill="#1a1a1a" stroke="#1a1a1a" stroke-width="0.06" >d</text>
<text x="111.60" y="1048.40" font-size="18" text-anchor="start" fill="#262626" stroke="#262626" stroke-width="0.06" >CTRw, Condition +2h</text>
<rect x="67.40" y="1168.11" width="44.30" height="116.69" fill="#ffffff"/>
<rect x="67.40" y="1168.11" width="44.30" height="116.69" fill="none" stroke="#444444" stroke-width="1.2"/>
<rect x="125.40" y="1172.02" width="44.00" height="112.78" fill="#ffffff"/>
<defs><pattern id="hd1" patternUnits="userSpaceOnUse" width="10.8" height="10.8" patternTransform="translate(125.40,1285.80)"><path d="M-2.7,2.7 L2.7,-2.7 M0,10.8 L10.8,0 M8.1,13.5 L13.5,8.1" stroke="#111111" stroke-width="2.2"/></pattern></defs>
<rect x="125.40" y="1172.02" width="44.00" height="112.78" fill="url(#hd1)"/>
<rect x="125.40" y="1172.02" width="44.00" height="112.78" fill="none" stroke="#444444" stroke-width="1.2"/>
<rect x="222.30" y="1159.08" width="43.70" height="125.72" fill="#555555"/>
<rect x="222.30" y="1159.08" width="43.70" height="125.72" fill="none" stroke="#444444" stroke-width="1.2"/>
<rect x="280.00" y="1171.04" width="43.70" height="113.76" fill="#555555"/>
<defs><pattern id="hd3" patternUnits="userSpaceOnUse" width="10.8" height="10.8" patternTransform="translate(280.00,1285.80)"><path d="M-2.7,2.7 L2.7,-2.7 M0,10.8 L10.8,0 M8.1,13.5 L13.5,8.1" stroke="#111111" stroke-width="2.2"/></pattern></defs>
<rect x="280.00" y="1171.04" width="43.70" height="113.76" fill="url(#hd3)"/>
<rect x="280.00" y="1171.04" width="43.70" height="113.76" fill="none" stroke="#444444" stroke-width="1.2"/>
<line x1="56.90" y1="1162.74" x2="335.50" y2="1162.74" stroke="#777777" stroke-width="1.3" stroke-dasharray="3.1 2.1"/>
<line x1="56.90" y1="1138.33" x2="335.50" y2="1138.33" stroke="#777777" stroke-width="1.3" stroke-dasharray="3.1 2.1"/>
<circle cx="89.55" cy="1118.07" r="1.5" fill="#111111"/>
<circle cx="89.55" cy="1135.40" r="1.5" fill="#111111"/>
<circle cx="91.05" cy="1142.73" r="1.5" fill="#111111"/>
<circle cx="88.05" cy="1142.73" r="1.5" fill="#111111"/>
<circle cx="89.55" cy="1152.74" r="1.5" fill="#111111"/>
<circle cx="88.21" cy="1155.42" r="1.5" fill="#111111"/>
<circle cx="89.55" cy="1162.74" r="1.5" fill="#111111"/>
<circle cx="89.55" cy="1171.53" r="1.5" fill="#111111"/>
<circle cx="89.55" cy="1177.15" r="1.5" fill="#111111"/>
<circle cx="86.55" cy="1177.15" r="1.5" fill="#111111"/>
<circle cx="92.55" cy="1177.15" r="1.5" fill="#111111"/>
<circle cx="89.55" cy="1204.24" r="1.5" fill="#111111"/>
<circle cx="91.05" cy="1214.25" r="1.5" fill="#111111"/>
<circle cx="88.05" cy="1214.25" r="1.5" fill="#111111"/>
<circle cx="147.40" cy="1115.39" r="1.5" fill="#111111"/>
<circle cx="146.06" cy="1118.07" r="1.5" fill="#111111"/>
<circle cx="147.40" cy="1122.71" r="1.5" fill="#111111"/>
<circle cx="147.40" cy="1139.80" r="1.5" fill="#111111"/>
<circle cx="147.40" cy="1145.41" r="1.5" fill="#111111"/>
<circle cx="147.40" cy="1160.06" r="1.5" fill="#111111"/>
<circle cx="147.40" cy="1169.82" r="1.5" fill="#111111"/>
<circle cx="147.40" cy="1174.95" r="1.5" fill="#111111"/>
<circle cx="147.40" cy="1179.83" r="1.5" fill="#111111"/>
<circle cx="148.90" cy="1186.18" r="1.5" fill="#111111"/>
<circle cx="145.90" cy="1186.18" r="1.5" fill="#111111"/>
<circle cx="148.90" cy="1196.43" r="1.5" fill="#111111"/>
<circle cx="145.90" cy="1196.43" r="1.5" fill="#111111"/>
<circle cx="148.90" cy="1207.90" r="1.5" fill="#111111"/>
<circle cx="145.90" cy="1207.90" r="1.5" fill="#111111"/>
<circle cx="147.40" cy="1214.25" r="1.5" fill="#111111"/>
<circle cx="245.65" cy="1137.11" r="1.5" fill="#111111"/>
<circle cx="242.65" cy="1137.11" r="1.5" fill="#111111"/>
<circle cx="245.65" cy="1147.12" r="1.5" fill="#111111"/>
<circle cx="242.65" cy="1147.12" r="1.5" fill="#111111"/>
<circle cx="244.15" cy="1155.42" r="1.5" fill="#111111"/>
<circle cx="244.15" cy="1160.06" r="1.5" fill="#111111"/>
<circle cx="245.65" cy="1164.45" r="1.5" fill="#111111"/>
<circle cx="242.65" cy="1164.45" r="1.5" fill="#111111"/>
<circle cx="245.65" cy="1187.16" r="1.5" fill="#111111"/>
<circle cx="242.65" cy="1187.16" r="1.5" fill="#111111"/>
<circle cx="301.85" cy="1142.73" r="1.5" fill="#111111"/>
<circle cx="303.35" cy="1160.06" r="1.5" fill="#111111"/>
<circle cx="300.35" cy="1160.06" r="1.5" fill="#111111"/>
<circle cx="301.85" cy="1164.45" r="1.5" fill="#111111"/>
<circle cx="298.85" cy="1164.45" r="1.5" fill="#111111"/>
<circle cx="304.85" cy="1164.45" r="1.5" fill="#111111"/>
<circle cx="303.35" cy="1168.60" r="1.5" fill="#111111"/>
<circle cx="300.35" cy="1168.60" r="1.5" fill="#111111"/>
<circle cx="303.35" cy="1173.49" r="1.5" fill="#111111"/>
<circle cx="300.35" cy="1173.49" r="1.5" fill="#111111"/>
<circle cx="301.85" cy="1182.27" r="1.5" fill="#111111"/>
<circle cx="301.85" cy="1196.43" r="1.5" fill="#111111"/>
<line x1="89.55" y1="1160.30" x2="89.55" y2="1175.93" stroke="#333333" stroke-width="1.2" />
<line x1="78.75" y1="1160.30" x2="100.35" y2="1160.30" stroke="#333333" stroke-width="1.2" />
<line x1="78.75" y1="1175.93" x2="100.35" y2="1175.93" stroke="#333333" stroke-width="1.2" />
<line x1="147.40" y1="1163.96" x2="147.40" y2="1180.08" stroke="#333333" stroke-width="1.2" />
<line x1="136.60" y1="1163.96" x2="158.20" y2="1163.96" stroke="#333333" stroke-width="1.2" />
<line x1="136.60" y1="1180.08" x2="158.20" y2="1180.08" stroke="#333333" stroke-width="1.2" />
<line x1="244.15" y1="1153.71" x2="244.15" y2="1164.45" stroke="#333333" stroke-width="1.2" />
<line x1="233.35" y1="1153.71" x2="254.95" y2="1153.71" stroke="#333333" stroke-width="1.2" />
<line x1="233.35" y1="1164.45" x2="254.95" y2="1164.45" stroke="#333333" stroke-width="1.2" />
<line x1="301.85" y1="1167.38" x2="301.85" y2="1174.71" stroke="#333333" stroke-width="1.2" />
<line x1="291.05" y1="1167.38" x2="312.65" y2="1167.38" stroke="#333333" stroke-width="1.2" />
<line x1="291.05" y1="1174.71" x2="312.65" y2="1174.71" stroke="#333333" stroke-width="1.2" />
<text x="89.55" y="1272.00" font-size="12" text-anchor="middle" fill="#262626" stroke="#262626" stroke-width="0.06" >14</text>
<rect x="138.73" y="1261.20" width="17.34" height="13.80" fill="#ffffff"/>
<text x="147.40" y="1272.00" font-size="12" text-anchor="middle" fill="#262626" stroke="#262626" stroke-width="0.06" >19</text>
<text x="244.15" y="1272.00" font-size="12" text-anchor="middle" fill="#ffffff" stroke="#ffffff" stroke-width="0.06" >10</text>
<rect x="293.18" y="1261.20" width="17.34" height="13.80" fill="#555555"/>
<text x="301.85" y="1272.00" font-size="12" text-anchor="middle" fill="#ffffff" stroke="#ffffff" stroke-width="0.06" >13</text>
<line x1="56.90" y1="1065.10" x2="56.90" y2="1284.80" stroke="#555555" stroke-width="1.2" />
<line x1="50.90" y1="1284.80" x2="56.90" y2="1284.80" stroke="#555555" stroke-width="1.2" />
<text x="43.60" y="1289.40" font-size="13" text-anchor="end" fill="#262626" stroke="#262626" stroke-width="0.06" >0.0</text>
<line x1="50.90" y1="1260.39" x2="56.90" y2="1260.39" stroke="#555555" stroke-width="1.2" />
<text x="43.60" y="1264.99" font-size="13" text-anchor="end" fill="#262626" stroke="#262626" stroke-width="0.06" >0.1</text>
<line x1="50.90" y1="1235.98" x2="56.90" y2="1235.98" stroke="#555555" stroke-width="1.2" />
<text x="43.60" y="1240.58" font-size="13" text-anchor="end" fill="#262626" stroke="#262626" stroke-width="0.06" >0.2</text>
<line x1="50.90" y1="1211.57" x2="56.90" y2="1211.57" stroke="#555555" stroke-width="1.2" />
<text x="43.60" y="1216.17" font-size="13" text-anchor="end" fill="#262626" stroke="#262626" stroke-width="0.06" >0.3</text>
<line x1="50.90" y1="1187.16" x2="56.90" y2="1187.16" stroke="#555555" stroke-width="1.2" />
<text x="43.60" y="1191.76" font-size="13" text-anchor="end" fill="#262626" stroke="#262626" stroke-width="0.06" >0.4</text>
<line x1="50.90" y1="1162.74" x2="56.90" y2="1162.74" stroke="#555555" stroke-width="1.2" />
<text x="43.60" y="1167.34" font-size="13" text-anchor="end" fill="#262626" stroke="#262626" stroke-width="0.06" >0.5</text>
<line x1="50.90" y1="1138.33" x2="56.90" y2="1138.33" stroke="#555555" stroke-width="1.2" />
<text x="43.60" y="1142.93" font-size="13" text-anchor="end" fill="#262626" stroke="#262626" stroke-width="0.06" >0.6</text>
<line x1="50.90" y1="1113.92" x2="56.90" y2="1113.92" stroke="#555555" stroke-width="1.2" />
<text x="43.60" y="1118.52" font-size="13" text-anchor="end" fill="#262626" stroke="#262626" stroke-width="0.06" >0.7</text>
<line x1="50.90" y1="1089.51" x2="56.90" y2="1089.51" stroke="#555555" stroke-width="1.2" />
<text x="43.60" y="1094.11" font-size="13" text-anchor="end" fill="#262626" stroke="#262626" stroke-width="0.06" >0.8</text>
<line x1="50.90" y1="1065.10" x2="56.90" y2="1065.10" stroke="#555555" stroke-width="1.2" />
<text x="43.60" y="1069.70" font-size="13" text-anchor="end" fill="#262626" stroke="#262626" stroke-width="0.06" >0.9</text>
<line x1="50.90" y1="1284.80" x2="335.50" y2="1284.80" stroke="#555555" stroke-width="1.2" />
<text x="89.55" y="1302.30" font-size="14.6" text-anchor="middle" fill="#262626" stroke="#262626" stroke-width="0.06" >M</text>
<text x="147.40" y="1302.30" font-size="14.6" text-anchor="middle" fill="#262626" stroke="#262626" stroke-width="0.06" >F</text>
<text x="244.15" y="1302.30" font-size="14.6" text-anchor="middle" fill="#262626" stroke="#262626" stroke-width="0.06" >M</text>
<text x="301.85" y="1302.30" font-size="14.6" text-anchor="middle" fill="#262626" stroke="#262626" stroke-width="0.06" >F</text>
<line x1="67.40" y1="1308.70" x2="169.40" y2="1308.70" stroke="#555555" stroke-width="1.2" />
<text x="118.40" y="1327.60" font-size="14.6" text-anchor="middle" fill="#262626" stroke="#262626" stroke-width="0.06" >CTRw</text>
<line x1="222.30" y1="1308.70" x2="323.70" y2="1308.70" stroke="#555555" stroke-width="1.2" />
<text x="273.00" y="1327.60" font-size="14.6" text-anchor="middle" fill="#262626" stroke="#262626" stroke-width="0.06" >EXM</text>
<text transform="translate(11.20,1175.30) rotate(-90)" font-size="15.1" text-anchor="middle" fill="#262626" stroke="#262626" stroke-width="0.06">Memory Index</text>
<text x="0.80" y="1373.50" font-size="28" text-anchor="start" fill="#1a1a1a" stroke="#1a1a1a" stroke-width="0.06" >e</text>
<text x="111.60" y="1379.60" font-size="18" text-anchor="start" fill="#262626" stroke="#262626" stroke-width="0.06" >CTRs, Condition -4h</text>
<rect x="67.40" y="1475.05" width="44.30" height="144.45" fill="#d9d9d9"/>
<rect x="67.40" y="1475.05" width="44.30" height="144.45" fill="none" stroke="#444444" stroke-width="1.2"/>
<rect x="125.40" y="1460.48" width="43.70" height="159.02" fill="#d9d9d9"/>
<defs><pattern id="he1" patternUnits="userSpaceOnUse" width="10.8" height="10.8" patternTransform="translate(125.40,1620.50)"><path d="M-2.7,2.7 L2.7,-2.7 M0,10.8 L10.8,0 M8.1,13.5 L13.5,8.1" stroke="#111111" stroke-width="2.2"/></pattern></defs>
<rect x="125.40" y="1460.48" width="43.70" height="159.02" fill="url(#he1)"/>
<rect x="125.40" y="1460.48" width="43.70" height="159.02" fill="none" stroke="#444444" stroke-width="1.2"/>
<rect x="221.70" y="1465.34" width="43.90" height="154.16" fill="#555555"/>
<rect x="221.70" y="1465.34" width="43.90" height="154.16" fill="none" stroke="#444444" stroke-width="1.2"/>
<rect x="279.50" y="1470.19" width="44.20" height="149.31" fill="#555555"/>
<defs><pattern id="he3" patternUnits="userSpaceOnUse" width="10.8" height="10.8" patternTransform="translate(279.50,1620.50)"><path d="M-2.7,2.7 L2.7,-2.7 M0,10.8 L10.8,0 M8.1,13.5 L13.5,8.1" stroke="#111111" stroke-width="2.2"/></pattern></defs>
<rect x="279.50" y="1470.19" width="44.20" height="149.31" fill="url(#he3)"/>
<rect x="279.50" y="1470.19" width="44.20" height="149.31" fill="none" stroke="#444444" stroke-width="1.2"/>
<line x1="56.00" y1="1498.11" x2="334.50" y2="1498.11" stroke="#777777" stroke-width="1.3" stroke-dasharray="3.1 2.1"/>
<line x1="56.00" y1="1473.83" x2="334.50" y2="1473.83" stroke="#777777" stroke-width="1.3" stroke-dasharray="3.1 2.1"/>
<circle cx="89.55" cy="1441.54" r="1.5" fill="#111111"/>
<circle cx="88.18" cy="1444.21" r="1.5" fill="#111111"/>
<circle cx="91.05" cy="1456.11" r="1.5" fill="#111111"/>
<circle cx="88.05" cy="1456.11" r="1.5" fill="#111111"/>
<circle cx="89.55" cy="1460.72" r="1.5" fill="#111111"/>
<circle cx="88.18" cy="1463.39" r="1.5" fill="#111111"/>
<circle cx="89.55" cy="1470.43" r="1.5" fill="#111111"/>
<circle cx="89.55" cy="1478.93" r="1.5" fill="#111111"/>
<circle cx="89.55" cy="1486.21" r="1.5" fill="#111111"/>
<circle cx="89.55" cy="1494.95" r="1.5" fill="#111111"/>
<circle cx="91.05" cy="1504.91" r="1.5" fill="#111111"/>
<circle cx="88.05" cy="1504.91" r="1.5" fill="#111111"/>
<circle cx="89.55" cy="1512.19" r="1.5" fill="#111111"/>
<circle cx="148.75" cy="1429.65" r="1.5" fill="#111111"/>
<circle cx="145.75" cy="1429.65" r="1.5" fill="#111111"/>
<circle cx="147.25" cy="1439.12" r="1.5" fill="#111111"/>
<circle cx="147.25" cy="1451.50" r="1.5" fill="#111111"/>
<circle cx="146.53" cy="1454.41" r="1.5" fill="#111111"/>
<circle cx="147.25" cy="1459.75" r="1.5" fill="#111111"/>
<circle cx="148.75" cy="1465.09" r="1.5" fill="#111111"/>
<circle cx="145.75" cy="1465.09" r="1.5" fill="#111111"/>
<circle cx="147.25" cy="1473.11" r="1.5" fill="#111111"/>
<circle cx="147.25" cy="1477.72" r="1.5" fill="#111111"/>
<circle cx="147.25" cy="1484.03" r="1.5" fill="#111111"/>
<circle cx="147.25" cy="1490.59" r="1.5" fill="#111111"/>
<circle cx="245.15" cy="1405.37" r="1.5" fill="#111111"/>
<circle cx="242.15" cy="1405.37" r="1.5" fill="#111111"/>
<circle cx="243.65" cy="1419.94" r="1.5" fill="#111111"/>
<circle cx="243.65" cy="1444.21" r="1.5" fill="#111111"/>
<circle cx="245.15" cy="1456.11" r="1.5" fill="#111111"/>
<circle cx="242.15" cy="1456.11" r="1.5" fill="#111111"/>
<circle cx="245.15" cy="1476.02" r="1.5" fill="#111111"/>
<circle cx="242.15" cy="1476.02" r="1.5" fill="#111111"/>
<circle cx="243.65" cy="1490.59" r="1.5" fill="#111111"/>
<circle cx="243.65" cy="1506.85" r="1.5" fill="#111111"/>
<circle cx="243.65" cy="1519.48" r="1.5" fill="#111111"/>
<circle cx="243.65" cy="1525.06" r="1.5" fill="#111111"/>
<circle cx="303.10" cy="1436.93" r="1.5" fill="#111111"/>
<circle cx="300.10" cy="1436.93" r="1.5" fill="#111111"/>
<circle cx="301.60" cy="1444.21" r="1.5" fill="#111111"/>
<circle cx="301.60" cy="1451.50" r="1.5" fill="#111111"/>
<circle cx="301.60" cy="1473.83" r="1.5" fill="#111111"/>
<circle cx="301.60" cy="1490.83" r="1.5" fill="#111111"/>
<circle cx="301.60" cy="1505.39" r="1.5" fill="#111111"/>
<circle cx="301.60" cy="1512.68" r="1.5" fill="#111111"/>
<line x1="89.55" y1="1468.25" x2="89.55" y2="1481.85" stroke="#333333" stroke-width="1.2" />
<line x1="78.75" y1="1468.25" x2="100.35" y2="1468.25" stroke="#333333" stroke-width="1.2" />
<line x1="78.75" y1="1481.85" x2="100.35" y2="1481.85" stroke="#333333" stroke-width="1.2" />
<line x1="147.25" y1="1454.41" x2="147.25" y2="1466.55" stroke="#333333" stroke-width="1.2" />
<line x1="136.45" y1="1454.41" x2="158.05" y2="1454.41" stroke="#333333" stroke-width="1.2" />
<line x1="136.45" y1="1466.55" x2="158.05" y2="1466.55" stroke="#333333" stroke-width="1.2" />
<line x1="243.65" y1="1453.20" x2="243.65" y2="1477.47" stroke="#333333" stroke-width="1.2" />
<line x1="232.85" y1="1453.20" x2="254.45" y2="1453.20" stroke="#333333" stroke-width="1.2" />
<line x1="232.85" y1="1477.47" x2="254.45" y2="1477.47" stroke="#333333" stroke-width="1.2" />
<line x1="301.60" y1="1460.48" x2="301.60" y2="1479.90" stroke="#333333" stroke-width="1.2" />
<line x1="290.80" y1="1460.48" x2="312.40" y2="1460.48" stroke="#333333" stroke-width="1.2" />
<line x1="290.80" y1="1479.90" x2="312.40" y2="1479.90" stroke="#333333" stroke-width="1.2" />
<text x="89.55" y="1605.80" font-size="12" text-anchor="middle" fill="#262626" stroke="#262626" stroke-width="0.06" >12</text>
<rect x="138.58" y="1595.00" width="17.34" height="13.80" fill="#d9d9d9"/>
<text x="147.25" y="1605.80" font-size="12" text-anchor="middle" fill="#262626" stroke="#262626" stroke-width="0.06" >11</text>
<text x="243.65" y="1605.80" font-size="12" text-anchor="middle" fill="#ffffff" stroke="#ffffff" stroke-width="0.06" >12</text>
<rect x="296.26" y="1595.00" width="10.67" height="13.80" fill="#555555"/>
<text x="301.60" y="1605.80" font-size="12" text-anchor="middle" fill="#ffffff" stroke="#ffffff" stroke-width="0.06" >9</text>
<line x1="56.00" y1="1401.00" x2="56.00" y2="1619.50" stroke="#555555" stroke-width="1.2" />
<line x1="50.00" y1="1619.50" x2="56.00" y2="1619.50" stroke="#555555" stroke-width="1.2" />
<text x="43.00" y="1624.10" font-size="13" text-anchor="end" fill="#262626" stroke="#262626" stroke-width="0.06" >0.0</text>
<line x1="50.00" y1="1595.22" x2="56.00" y2="1595.22" stroke="#555555" stroke-width="1.2" />
<text x="43.00" y="1599.82" font-size="13" text-anchor="end" fill="#262626" stroke="#262626" stroke-width="0.06" >0.1</text>
<line x1="50.00" y1="1570.94" x2="56.00" y2="1570.94" stroke="#555555" stroke-width="1.2" />
<text x="43.00" y="1575.54" font-size="13" text-anchor="end" fill="#262626" stroke="#262626" stroke-width="0.06" >0.2</text>
<line x1="50.00" y1="1546.67" x2="56.00" y2="1546.67" stroke="#555555" stroke-width="1.2" />
<text x="43.00" y="1551.27" font-size="13" text-anchor="end" fill="#262626" stroke="#262626" stroke-width="0.06" >0.3</text>
<line x1="50.00" y1="1522.39" x2="56.00" y2="1522.39" stroke="#555555" stroke-width="1.2" />
<text x="43.00" y="1526.99" font-size="13" text-anchor="end" fill="#262626" stroke="#262626" stroke-width="0.06" >0.4</text>
<line x1="50.00" y1="1498.11" x2="56.00" y2="1498.11" stroke="#555555" stroke-width="1.2" />
<text x="43.00" y="1502.71" font-size="13" text-anchor="end" fill="#262626" stroke="#262626" stroke-width="0.06" >0.5</text>
<line x1="50.00" y1="1473.83" x2="56.00" y2="1473.83" stroke="#555555" stroke-width="1.2" />
<text x="43.00" y="1478.43" font-size="13" text-anchor="end" fill="#262626" stroke="#262626" stroke-width="0.06" >0.6</text>
<line x1="50.00" y1="1449.56" x2="56.00" y2="1449.56" stroke="#555555" stroke-width="1.2" />
<text x="43.00" y="1454.16" font-size="13" text-anchor="end" fill="#262626" stroke="#262626" stroke-width="0.06" >0.7</text>
<line x1="50.00" y1="1425.28" x2="56.00" y2="1425.28" stroke="#555555" stroke-width="1.2" />
<text x="43.00" y="1429.88" font-size="13" text-anchor="end" fill="#262626" stroke="#262626" stroke-width="0.06" >0.8</text>
<line x1="50.00" y1="1401.00" x2="56.00" y2="1401.00" stroke="#555555" stroke-width="1.2" />
<text x="43.00" y="1405.60" font-size="13" text-anchor="end" fill="#262626" stroke="#262626" stroke-width="0.06" >0.9</text>
<line x1="50.00" y1="1619.50" x2="334.50" y2="1619.50" stroke="#555555" stroke-width="1.2" />
<text x="89.55" y="1636.50" font-size="14.6" text-anchor="middle" fill="#262626" stroke="#262626" stroke-width="0.06" >M</text>
<text x="147.25" y="1636.50" font-size="14.6" text-anchor="middle" fill="#262626" stroke="#262626" stroke-width="0.06" >F</text>
<text x="243.65" y="1636.50" font-size="14.6" text-anchor="middle" fill="#262626" stroke="#262626" stroke-width="0.06" >M</text>
<text x="301.60" y="1636.50" font-size="14.6" text-anchor="middle" fill="#262626" stroke="#262626" stroke-width="0.06" >F</text>
<line x1="67.40" y1="1642.80" x2="169.10" y2="1642.80" stroke="#555555" stroke-width="1.2" />
<text x="118.25" y="1661.50" font-size="14.6" text-anchor="middle" fill="#262626" stroke="#262626" stroke-width="0.06" >CTRs</text>
<line x1="221.70" y1="1642.80" x2="323.70" y2="1642.80" stroke="#555555" stroke-width="1.2" />
<text x="272.70" y="1661.50" font-size="14.6" text-anchor="middle" fill="#262626" stroke="#262626" stroke-width="0.06" >EXM</text>
<text transform="translate(11.20,1510.30) rotate(-90)" font-size="15.1" text-anchor="middle" fill="#262626" stroke="#262626" stroke-width="0.06">Memory Index</text>
<text x="396.00" y="20.60" font-size="28" text-anchor="start" fill="#1a1a1a" stroke="#1a1a1a" stroke-width="0.06" >f</text>
<text x="583.50" y="26.40" font-size="16" text-anchor="start" fill="#262626" stroke="#262626" stroke-width="0.06" >All CTR</text>
<polyline points="472.00,137.54 565.40,244.80 659.30,190.20 752.50,132.85" fill="none" stroke="#1a1a1a" stroke-width="2.4" stroke-dasharray="0.01 6" stroke-linecap="round"/>
<polyline points="472.00,168.20 565.40,250.07 659.30,195.61 752.50,94.62" fill="none" stroke="#808080" stroke-width="2.4" stroke-dasharray="0.01 6" stroke-linecap="round"/>
<rect x="467.50" y="163.70" width="9" height="9" fill="#808080"/>
<rect x="560.90" y="245.57" width="9" height="9" fill="#808080"/>
<rect x="654.80" y="191.11" width="9" height="9" fill="#808080"/>
<rect x="748.00" y="90.12" width="9" height="9" fill="#808080"/>
<circle cx="472.00" cy="137.54" r="4.5" fill="#1a1a1a"/>
<circle cx="565.40" cy="244.80" r="4.5" fill="#1a1a1a"/>
<circle cx="659.30" cy="190.20" r="4.5" fill="#1a1a1a"/>
<line x1="752.50" y1="127.08" x2="752.50" y2="138.62" stroke="#1a1a1a" stroke-width="2.6" />
<line x1="747.40" y1="127.08" x2="757.60" y2="127.08" stroke="#1a1a1a" stroke-width="2.8" />
<line x1="747.40" y1="138.62" x2="757.60" y2="138.62" stroke="#1a1a1a" stroke-width="2.8" />
<circle cx="752.50" cy="132.85" r="4.5" fill="#1a1a1a"/>
<line x1="453.60" y1="49.90" x2="453.60" y2="266.30" stroke="#555555" stroke-width="1.2" />
<line x1="447.60" y1="266.30" x2="453.60" y2="266.30" stroke="#555555" stroke-width="1.2" />
<text x="440.50" y="271.30" font-size="14" text-anchor="end" fill="#262626" stroke="#262626" stroke-width="0.06" >0.0</text>
<line x1="447.60" y1="194.17" x2="453.60" y2="194.17" stroke="#555555" stroke-width="1.2" />
<text x="440.50" y="199.17" font-size="14" text-anchor="end" fill="#262626" stroke="#262626" stroke-width="0.06" >0.2</text>
<line x1="447.60" y1="122.03" x2="453.60" y2="122.03" stroke="#555555" stroke-width="1.2" />
<text x="440.50" y="127.03" font-size="14" text-anchor="end" fill="#262626" stroke="#262626" stroke-width="0.06" >0.4</text>
<line x1="447.60" y1="49.90" x2="453.60" y2="49.90" stroke="#555555" stroke-width="1.2" />
<text x="440.50" y="54.90" font-size="14" text-anchor="end" fill="#262626" stroke="#262626" stroke-width="0.06" >0.6</text>
<line x1="447.60" y1="266.30" x2="771.70" y2="266.30" stroke="#555555" stroke-width="1.2" />
<line x1="472.00" y1="266.30" x2="472.00" y2="272.30" stroke="#555555" stroke-width="1.2" />
<text x="472.00" y="291.50" font-size="16" text-anchor="middle" fill="#262626" stroke="#262626" stroke-width="0.06" >Null</text>
<line x1="565.40" y1="266.30" x2="565.40" y2="272.30" stroke="#555555" stroke-width="1.2" />
<text x="565.40" y="291.50" font-size="16" text-anchor="middle" fill="#262626" stroke="#262626" stroke-width="0.06" >Low</text>
<line x1="659.30" y1="266.30" x2="659.30" y2="272.30" stroke="#555555" stroke-width="1.2" />
<text x="659.30" y="291.50" font-size="16" text-anchor="middle" fill="#262626" stroke="#262626" stroke-width="0.06" >Mid</text>
<line x1="752.50" y1="266.30" x2="752.50" y2="272.30" stroke="#555555" stroke-width="1.2" />
<text x="752.50" y="291.50" font-size="16" text-anchor="middle" fill="#262626" stroke="#262626" stroke-width="0.06" >High</text>
<text transform="translate(407.30,158.70) rotate(-90)" font-size="15.7" text-anchor="middle" fill="#262626" stroke="#262626" stroke-width="0.06">Score Proportion</text>
<line x1="506.80" y1="96.30" x2="528.00" y2="96.30" stroke="#1a1a1a" stroke-width="2.4" stroke-dasharray="0.01 6" stroke-linecap="round"/>
<circle cx="517.40" cy="96.30" r="4.5" fill="#1a1a1a"/>
<text x="542.80" y="101.30" font-size="14" text-anchor="start" fill="#262626" stroke="#262626" stroke-width="0.06" >CTRw</text>
<line x1="602.00" y1="96.30" x2="622.70" y2="96.30" stroke="#808080" stroke-width="2.4" stroke-dasharray="0.01 6" stroke-linecap="round"/>
<rect x="607.85" y="91.80" width="9" height="9" fill="#808080"/>
<text x="639.00" y="101.30" font-size="14" text-anchor="start" fill="#262626" stroke="#262626" stroke-width="0.06" >CTRs</text>
<text x="473.50" y="94.00" font-size="20" text-anchor="middle" fill="#262626" stroke="#262626" stroke-width="0.06" >****</text>
<text x="754.00" y="65.20" font-size="20" text-anchor="middle" fill="#262626" stroke="#262626" stroke-width="0.06" >****</text>
<text x="395.20" y="356.20" font-size="28" text-anchor="start" fill="#1a1a1a" stroke="#1a1a1a" stroke-width="0.06" >g</text>
<text x="525.70" y="363.40" font-size="18" text-anchor="start" fill="#262626" stroke="#262626" stroke-width="0.06" >CTRw, Condition +1h</text>
<polyline points="472.60,479.51 566.40,590.39 659.90,528.01 753.70,465.53" fill="none" stroke="#1a1a1a" stroke-width="2.4" stroke-dasharray="0.01 6" stroke-linecap="round"/>
<polyline points="472.60,515.00 566.40,597.99 659.90,521.45 753.70,435.05" fill="none" stroke="#555555" stroke-width="2.2"/>
<line x1="472.60" y1="506.75" x2="472.60" y2="523.25" stroke="#555555" stroke-width="2.6" />
<line x1="467.50" y1="506.75" x2="477.70" y2="506.75" stroke="#555555" stroke-width="2.8" />
<line x1="467.50" y1="523.25" x2="477.70" y2="523.25" stroke="#555555" stroke-width="2.8" />
<path d="M472.60,508.50 L478.20,520.00 L467.00,520.00 Z" fill="#555555"/>
<path d="M566.40,591.49 L572.00,602.99 L560.80,602.99 Z" fill="#555555"/>
<line x1="659.90" y1="513.57" x2="659.90" y2="529.34" stroke="#555555" stroke-width="2.6" />
<line x1="654.80" y1="513.57" x2="665.00" y2="513.57" stroke="#555555" stroke-width="2.8" />
<line x1="654.80" y1="529.34" x2="665.00" y2="529.34" stroke="#555555" stroke-width="2.8" />
<path d="M659.90,514.95 L665.50,526.45 L654.30,526.45 Z" fill="#555555"/>
<line x1="753.70" y1="425.73" x2="753.70" y2="444.38" stroke="#555555" stroke-width="2.6" />
<line x1="748.60" y1="425.73" x2="758.80" y2="425.73" stroke="#555555" stroke-width="2.8" />
<line x1="748.60" y1="444.38" x2="758.80" y2="444.38" stroke="#555555" stroke-width="2.8" />
<path d="M753.70,428.55 L759.30,440.05 L748.10,440.05 Z" fill="#555555"/>
<line x1="472.60" y1="473.31" x2="472.60" y2="485.71" stroke="#1a1a1a" stroke-width="2.6" />
<line x1="467.50" y1="473.31" x2="477.70" y2="473.31" stroke="#1a1a1a" stroke-width="2.8" />
<line x1="467.50" y1="485.71" x2="477.70" y2="485.71" stroke="#1a1a1a" stroke-width="2.8" />
<circle cx="472.60" cy="479.51" r="4.5" fill="#1a1a1a"/>
<circle cx="566.40" cy="590.39" r="4.5" fill="#1a1a1a"/>
<line x1="659.90" y1="520.84" x2="659.90" y2="535.18" stroke="#1a1a1a" stroke-width="2.6" />
<line x1="654.80" y1="520.84" x2="665.00" y2="520.84" stroke="#1a1a1a" stroke-width="2.8" />
<line x1="654.80" y1="535.18" x2="665.00" y2="535.18" stroke="#1a1a1a" stroke-width="2.8" />
<circle cx="659.90" cy="528.01" r="4.5" fill="#1a1a1a"/>
<line x1="753.70" y1="457.64" x2="753.70" y2="473.41" stroke="#1a1a1a" stroke-width="2.6" />
<line x1="748.60" y1="457.64" x2="758.80" y2="457.64" stroke="#1a1a1a" stroke-width="2.8" />
<line x1="748.60" y1="473.41" x2="758.80" y2="473.41" stroke="#1a1a1a" stroke-width="2.8" />
<circle cx="753.70" cy="465.53" r="4.5" fill="#1a1a1a"/>
<line x1="454.40" y1="390.60" x2="454.40" y2="605.70" stroke="#555555" stroke-width="1.2" />
<line x1="448.40" y1="605.70" x2="454.40" y2="605.70" stroke="#555555" stroke-width="1.2" />
<text x="441.50" y="610.70" font-size="14" text-anchor="end" fill="#262626" stroke="#262626" stroke-width="0.06" >0.0</text>
<line x1="448.40" y1="534.00" x2="454.40" y2="534.00" stroke="#555555" stroke-width="1.2" />
<text x="441.50" y="539.00" font-size="14" text-anchor="end" fill="#262626" stroke="#262626" stroke-width="0.06" >0.2</text>
<line x1="448.40" y1="462.30" x2="454.40" y2="462.30" stroke="#555555" stroke-width="1.2" />
<text x="441.50" y="467.30" font-size="14" text-anchor="end" fill="#262626" stroke="#262626" stroke-width="0.06" >0.4</text>
<line x1="448.40" y1="390.60" x2="454.40" y2="390.60" stroke="#555555" stroke-width="1.2" />
<text x="441.50" y="395.60" font-size="14" text-anchor="end" fill="#262626" stroke="#262626" stroke-width="0.06" >0.6</text>
<line x1="448.40" y1="605.70" x2="772.70" y2="605.70" stroke="#555555" stroke-width="1.2" />
<line x1="472.60" y1="605.70" x2="472.60" y2="611.70" stroke="#555555" stroke-width="1.2" />
<text x="472.60" y="630.00" font-size="16" text-anchor="middle" fill="#262626" stroke="#262626" stroke-width="0.06" >Null</text>
<line x1="566.40" y1="605.70" x2="566.40" y2="611.70" stroke="#555555" stroke-width="1.2" />
<text x="566.40" y="630.00" font-size="16" text-anchor="middle" fill="#262626" stroke="#262626" stroke-width="0.06" >Low</text>
<line x1="659.90" y1="605.70" x2="659.90" y2="611.70" stroke="#555555" stroke-width="1.2" />
<text x="659.90" y="630.00" font-size="16" text-anchor="middle" fill="#262626" stroke="#262626" stroke-width="0.06" >Mid</text>
<line x1="753.70" y1="605.70" x2="753.70" y2="611.70" stroke="#555555" stroke-width="1.2" />
<text x="753.70" y="630.00" font-size="16" text-anchor="middle" fill="#262626" stroke="#262626" stroke-width="0.06" >High</text>
<text transform="translate(407.90,499.50) rotate(-90)" font-size="15.4" text-anchor="middle" fill="#262626" stroke="#262626" stroke-width="0.06">Score Proportion</text>
<line x1="516.00" y1="434.80" x2="537.00" y2="434.80" stroke="#1a1a1a" stroke-width="2.4" stroke-dasharray="0.01 6" stroke-linecap="round"/>
<circle cx="526.50" cy="434.80" r="4.5" fill="#1a1a1a"/>
<text x="551.50" y="439.80" font-size="14" text-anchor="start" fill="#262626" stroke="#262626" stroke-width="0.06" >CTRw</text>
<line x1="635.30" y1="434.80" x2="657.70" y2="434.80" stroke="#555555" stroke-width="2.2" />
<path d="M646.50,428.30 L652.10,439.80 L640.90,439.80 Z" fill="#555555"/>
<text x="670.60" y="439.80" font-size="14" text-anchor="start" fill="#262626" stroke="#262626" stroke-width="0.06" >EXM</text>
<text x="477.00" y="406.00" font-size="20" text-anchor="middle" fill="#262626" stroke="#262626" stroke-width="0.06" >***</text>
<text x="754.00" y="406.00" font-size="20" text-anchor="middle" fill="#262626" stroke="#262626" stroke-width="0.06" >*</text>
<text x="395.80" y="704.00" font-size="27" text-anchor="start" fill="#1a1a1a" stroke="#1a1a1a" stroke-width="0.06" >h</text>
<text x="526.60" y="711.10" font-size="18" text-anchor="start" fill="#262626" stroke="#262626" stroke-width="0.06" >CTRs, Condition +1h</text>
<polyline points="472.60,834.66 566.40,930.08 659.90,887.63 753.70,784.70" fill="none" stroke="#808080" stroke-width="2.4" stroke-dasharray="0.01 6" stroke-linecap="round"/>
<polyline points="472.60,808.74 566.40,938.35 659.90,883.50 753.70,810.62" fill="none" stroke="#555555" stroke-width="2.2"/>
<line x1="472.60" y1="800.10" x2="472.60" y2="808.74" stroke="#555555" stroke-width="2.6" />
<line x1="467.50" y1="800.10" x2="477.70" y2="800.10" stroke="#555555" stroke-width="2.8" />
<path d="M472.60,802.24 L478.20,813.74 L467.00,813.74 Z" fill="#555555"/>
<path d="M566.40,931.85 L572.00,943.35 L560.80,943.35 Z" fill="#555555"/>
<path d="M659.90,877.00 L665.50,888.50 L654.30,888.50 Z" fill="#555555"/>
<line x1="753.70" y1="802.36" x2="753.70" y2="810.62" stroke="#555555" stroke-width="2.6" />
<line x1="748.60" y1="802.36" x2="758.80" y2="802.36" stroke="#555555" stroke-width="2.8" />
<path d="M753.70,804.12 L759.30,815.62 L748.10,815.62 Z" fill="#555555"/>
<line x1="472.60" y1="826.93" x2="472.60" y2="842.40" stroke="#808080" stroke-width="2.6" />
<line x1="467.50" y1="826.93" x2="477.70" y2="826.93" stroke="#808080" stroke-width="2.8" />
<line x1="467.50" y1="842.40" x2="477.70" y2="842.40" stroke="#808080" stroke-width="2.8" />
<rect x="468.10" y="830.16" width="9" height="9" fill="#808080"/>
<line x1="566.40" y1="926.33" x2="566.40" y2="933.84" stroke="#808080" stroke-width="2.6" />
<line x1="561.30" y1="926.33" x2="571.50" y2="926.33" stroke="#808080" stroke-width="2.8" />
<line x1="561.30" y1="933.84" x2="571.50" y2="933.84" stroke="#808080" stroke-width="2.8" />
<rect x="561.90" y="925.58" width="9" height="9" fill="#808080"/>
<line x1="659.90" y1="883.13" x2="659.90" y2="892.14" stroke="#808080" stroke-width="2.6" />
<line x1="654.80" y1="883.13" x2="665.00" y2="883.13" stroke="#808080" stroke-width="2.8" />
<line x1="654.80" y1="892.14" x2="665.00" y2="892.14" stroke="#808080" stroke-width="2.8" />
<rect x="655.40" y="883.13" width="9" height="9" fill="#808080"/>
<line x1="753.70" y1="776.44" x2="753.70" y2="792.97" stroke="#808080" stroke-width="2.6" />
<line x1="748.60" y1="776.44" x2="758.80" y2="776.44" stroke="#808080" stroke-width="2.8" />
<line x1="748.60" y1="792.97" x2="758.80" y2="792.97" stroke="#808080" stroke-width="2.8" />
<rect x="749.20" y="780.20" width="9" height="9" fill="#808080"/>
<line x1="453.80" y1="727.60" x2="453.80" y2="953.00" stroke="#555555" stroke-width="1.2" />
<line x1="447.80" y1="953.00" x2="453.80" y2="953.00" stroke="#555555" stroke-width="1.2" />
<text x="441.80" y="958.00" font-size="14" text-anchor="end" fill="#262626" stroke="#262626" stroke-width="0.06" >0.0</text>
<line x1="447.80" y1="877.87" x2="453.80" y2="877.87" stroke="#555555" stroke-width="1.2" />
<text x="441.80" y="882.87" font-size="14" text-anchor="end" fill="#262626" stroke="#262626" stroke-width="0.06" >0.2</text>
<line x1="447.80" y1="802.73" x2="453.80" y2="802.73" stroke="#555555" stroke-width="1.2" />
<text x="441.80" y="807.73" font-size="14" text-anchor="end" fill="#262626" stroke="#262626" stroke-width="0.06" >0.4</text>
<line x1="447.80" y1="727.60" x2="453.80" y2="727.60" stroke="#555555" stroke-width="1.2" />
<text x="441.80" y="732.60" font-size="14" text-anchor="end" fill="#262626" stroke="#262626" stroke-width="0.06" >0.6</text>
<line x1="447.80" y1="953.00" x2="772.00" y2="953.00" stroke="#555555" stroke-width="1.2" />
<line x1="472.60" y1="953.00" x2="472.60" y2="959.00" stroke="#555555" stroke-width="1.2" />
<text x="472.60" y="978.70" font-size="16" text-anchor="middle" fill="#262626" stroke="#262626" stroke-width="0.06" >Null</text>
<line x1="566.40" y1="953.00" x2="566.40" y2="959.00" stroke="#555555" stroke-width="1.2" />
<text x="566.40" y="978.70" font-size="16" text-anchor="middle" fill="#262626" stroke="#262626" stroke-width="0.06" >Low</text>
<line x1="659.90" y1="953.00" x2="659.90" y2="959.00" stroke="#555555" stroke-width="1.2" />
<text x="659.90" y="978.70" font-size="16" text-anchor="middle" fill="#262626" stroke="#262626" stroke-width="0.06" >Mid</text>
<line x1="753.70" y1="953.00" x2="753.70" y2="959.00" stroke="#555555" stroke-width="1.2" />
<text x="753.70" y="978.70" font-size="16" text-anchor="middle" fill="#262626" stroke="#262626" stroke-width="0.06" >High</text>
<text transform="translate(407.90,839.70) rotate(-90)" font-size="16" text-anchor="middle" fill="#262626" stroke="#262626" stroke-width="0.06">Score Proportion</text>
<line x1="510.00" y1="787.50" x2="529.80" y2="787.50" stroke="#808080" stroke-width="2.4" stroke-dasharray="0.01 6" stroke-linecap="round"/>
<rect x="515.40" y="783.00" width="9" height="9" fill="#808080"/>
<text x="545.90" y="792.50" font-size="14" text-anchor="start" fill="#262626" stroke="#262626" stroke-width="0.06" >CTRs</text>
<line x1="644.00" y1="787.50" x2="666.70" y2="787.50" stroke="#555555" stroke-width="2.2" />
<path d="M655.35,781.00 L660.95,792.50 L649.75,792.50 Z" fill="#555555"/>
<text x="679.20" y="792.50" font-size="14" text-anchor="start" fill="#262626" stroke="#262626" stroke-width="0.06" >EXM</text>
<text x="471.80" y="768.00" font-size="20" text-anchor="middle" fill="#262626" stroke="#262626" stroke-width="0.06" >**</text>
<text x="753.90" y="752.50" font-size="20" text-anchor="middle" fill="#262626" stroke="#262626" stroke-width="0.06" >*</text>
<text x="395.20" y="1041.20" font-size="27" text-anchor="start" fill="#1a1a1a" stroke="#1a1a1a" stroke-width="0.06" >i</text>
<text x="529.20" y="1049.60" font-size="18" text-anchor="start" fill="#262626" stroke="#262626" stroke-width="0.06" >CTRw, Condition +2h</text>
<polyline points="471.30,1157.60 564.70,1244.02 658.30,1218.43 751.70,1156.50" fill="none" stroke="#1a1a1a" stroke-width="2.4" stroke-dasharray="0.01 6" stroke-linecap="round"/>
<polyline points="471.30,1159.08 564.70,1257.51 658.30,1215.85 751.70,1149.49" fill="none" stroke="#555555" stroke-width="2.2"/>
<line x1="471.30" y1="1152.44" x2="471.30" y2="1165.71" stroke="#555555" stroke-width="2.6" />
<line x1="466.20" y1="1152.44" x2="476.40" y2="1152.44" stroke="#555555" stroke-width="2.8" />
<line x1="466.20" y1="1165.71" x2="476.40" y2="1165.71" stroke="#555555" stroke-width="2.8" />
<path d="M471.30,1152.58 L476.90,1164.08 L465.70,1164.08 Z" fill="#555555"/>
<path d="M564.70,1251.01 L570.30,1262.51 L559.10,1262.51 Z" fill="#555555"/>
<line x1="658.30" y1="1210.14" x2="658.30" y2="1221.57" stroke="#555555" stroke-width="2.6" />
<line x1="653.20" y1="1210.14" x2="663.40" y2="1210.14" stroke="#555555" stroke-width="2.8" />
<line x1="653.20" y1="1221.57" x2="663.40" y2="1221.57" stroke="#555555" stroke-width="2.8" />
<path d="M658.30,1209.35 L663.90,1220.85 L652.70,1220.85 Z" fill="#555555"/>
<line x1="751.70" y1="1139.54" x2="751.70" y2="1159.45" stroke="#555555" stroke-width="2.6" />
<line x1="746.60" y1="1139.54" x2="756.80" y2="1139.54" stroke="#555555" stroke-width="2.8" />
<line x1="746.60" y1="1159.45" x2="756.80" y2="1159.45" stroke="#555555" stroke-width="2.8" />
<path d="M751.70,1142.99 L757.30,1154.49 L746.10,1154.49 Z" fill="#555555"/>
<line x1="471.30" y1="1150.05" x2="471.30" y2="1165.16" stroke="#1a1a1a" stroke-width="2.6" />
<line x1="466.20" y1="1150.05" x2="476.40" y2="1150.05" stroke="#1a1a1a" stroke-width="2.8" />
<line x1="466.20" y1="1165.16" x2="476.40" y2="1165.16" stroke="#1a1a1a" stroke-width="2.8" />
<circle cx="471.30" cy="1157.60" r="4.5" fill="#1a1a1a"/>
<line x1="564.70" y1="1238.12" x2="564.70" y2="1249.92" stroke="#1a1a1a" stroke-width="2.6" />
<line x1="559.60" y1="1238.12" x2="569.80" y2="1238.12" stroke="#1a1a1a" stroke-width="2.8" />
<line x1="559.60" y1="1249.92" x2="569.80" y2="1249.92" stroke="#1a1a1a" stroke-width="2.8" />
<circle cx="564.70" cy="1244.02" r="4.5" fill="#1a1a1a"/>
<line x1="658.30" y1="1213.27" x2="658.30" y2="1223.60" stroke="#1a1a1a" stroke-width="2.6" />
<line x1="653.20" y1="1213.27" x2="663.40" y2="1213.27" stroke="#1a1a1a" stroke-width="2.8" />
<line x1="653.20" y1="1223.60" x2="663.40" y2="1223.60" stroke="#1a1a1a" stroke-width="2.8" />
<circle cx="658.30" cy="1218.43" r="4.5" fill="#1a1a1a"/>
<line x1="751.70" y1="1148.02" x2="751.70" y2="1164.98" stroke="#1a1a1a" stroke-width="2.6" />
<line x1="746.60" y1="1148.02" x2="756.80" y2="1148.02" stroke="#1a1a1a" stroke-width="2.8" />
<line x1="746.60" y1="1164.98" x2="756.80" y2="1164.98" stroke="#1a1a1a" stroke-width="2.8" />
<circle cx="751.70" cy="1156.50" r="4.5" fill="#1a1a1a"/>
<line x1="452.80" y1="1064.70" x2="452.80" y2="1285.90" stroke="#555555" stroke-width="1.2" />
<line x1="446.80" y1="1285.90" x2="452.80" y2="1285.90" stroke="#555555" stroke-width="1.2" />
<text x="439.70" y="1290.90" font-size="14" text-anchor="end" fill="#262626" stroke="#262626" stroke-width="0.06" >0.0</text>
<line x1="446.80" y1="1212.17" x2="452.80" y2="1212.17" stroke="#555555" stroke-width="1.2" />
<text x="439.70" y="1217.17" font-size="14" text-anchor="end" fill="#262626" stroke="#262626" stroke-width="0.06" >0.2</text>
<line x1="446.80" y1="1138.43" x2="452.80" y2="1138.43" stroke="#555555" stroke-width="1.2" />
<text x="439.70" y="1143.43" font-size="14" text-anchor="end" fill="#262626" stroke="#262626" stroke-width="0.06" >0.4</text>
<line x1="446.80" y1="1064.70" x2="452.80" y2="1064.70" stroke="#555555" stroke-width="1.2" />
<text x="439.70" y="1069.70" font-size="14" text-anchor="end" fill="#262626" stroke="#262626" stroke-width="0.06" >0.6</text>
<line x1="446.80" y1="1285.90" x2="771.00" y2="1285.90" stroke="#555555" stroke-width="1.2" />
<line x1="471.30" y1="1285.90" x2="471.30" y2="1291.90" stroke="#555555" stroke-width="1.2" />
<text x="471.30" y="1310.60" font-size="16" text-anchor="middle" fill="#262626" stroke="#262626" stroke-width="0.06" >Null</text>
<line x1="564.70" y1="1285.90" x2="564.70" y2="1291.90" stroke="#555555" stroke-width="1.2" />
<text x="564.70" y="1310.60" font-size="16" text-anchor="middle" fill="#262626" stroke="#262626" stroke-width="0.06" >Low</text>
<line x1="658.30" y1="1285.90" x2="658.30" y2="1291.90" stroke="#555555" stroke-width="1.2" />
<text x="658.30" y="1310.60" font-size="16" text-anchor="middle" fill="#262626" stroke="#262626" stroke-width="0.06" >Mid</text>
<line x1="751.70" y1="1285.90" x2="751.70" y2="1291.90" stroke="#555555" stroke-width="1.2" />
<text x="751.70" y="1310.60" font-size="16" text-anchor="middle" fill="#262626" stroke="#262626" stroke-width="0.06" >High</text>
<text transform="translate(406.00,1175.50) rotate(-90)" font-size="15.9" text-anchor="middle" fill="#262626" stroke="#262626" stroke-width="0.06">Score Proportion</text>
<line x1="506.20" y1="1110.50" x2="527.00" y2="1110.50" stroke="#1a1a1a" stroke-width="2.4" stroke-dasharray="0.01 6" stroke-linecap="round"/>
<circle cx="516.60" cy="1110.50" r="4.5" fill="#1a1a1a"/>
<text x="542.00" y="1115.50" font-size="14" text-anchor="start" fill="#262626" stroke="#262626" stroke-width="0.06" >CTRw</text>
<line x1="607.20" y1="1110.50" x2="629.90" y2="1110.50" stroke="#555555" stroke-width="2.2" />
<path d="M618.55,1104.00 L624.15,1115.50 L612.95,1115.50 Z" fill="#555555"/>
<text x="642.30" y="1115.50" font-size="14" text-anchor="start" fill="#262626" stroke="#262626" stroke-width="0.06" >EXM</text>
<text x="396.50" y="1373.30" font-size="28" text-anchor="start" fill="#1a1a1a" stroke="#1a1a1a" stroke-width="0.06" >j</text>
<text x="529.20" y="1381.40" font-size="18" text-anchor="start" fill="#262626" stroke="#262626" stroke-width="0.06" >CTRs, Condition -4h</text>
<polyline points="473.60,1526.45 567.80,1611.99 661.80,1540.29 756.20,1430.83" fill="none" stroke="#808080" stroke-width="2.4" stroke-dasharray="0.01 6" stroke-linecap="round"/>
<polyline points="473.60,1524.60 567.80,1611.96 661.80,1553.10 756.20,1427.61" fill="none" stroke="#555555" stroke-width="2.2"/>
<line x1="473.60" y1="1512.75" x2="473.60" y2="1536.44" stroke="#555555" stroke-width="2.6" />
<line x1="468.50" y1="1512.75" x2="478.70" y2="1512.75" stroke="#555555" stroke-width="2.8" />
<line x1="468.50" y1="1536.44" x2="478.70" y2="1536.44" stroke="#555555" stroke-width="2.8" />
<path d="M473.60,1518.10 L479.20,1529.60 L468.00,1529.60 Z" fill="#555555"/>
<path d="M567.80,1605.46 L573.40,1616.96 L562.20,1616.96 Z" fill="#555555"/>
<path d="M661.80,1546.60 L667.40,1558.10 L656.20,1558.10 Z" fill="#555555"/>
<line x1="756.20" y1="1413.55" x2="756.20" y2="1441.68" stroke="#555555" stroke-width="2.6" />
<line x1="751.10" y1="1413.55" x2="761.30" y2="1413.55" stroke="#555555" stroke-width="2.8" />
<line x1="751.10" y1="1441.68" x2="761.30" y2="1441.68" stroke="#555555" stroke-width="2.8" />
<path d="M756.20,1421.11 L761.80,1432.61 L750.60,1432.61 Z" fill="#555555"/>
<line x1="473.60" y1="1519.19" x2="473.60" y2="1533.70" stroke="#808080" stroke-width="2.6" />
<line x1="468.50" y1="1519.19" x2="478.70" y2="1519.19" stroke="#808080" stroke-width="2.8" />
<line x1="468.50" y1="1533.70" x2="478.70" y2="1533.70" stroke="#808080" stroke-width="2.8" />
<rect x="469.10" y="1521.95" width="9" height="9" fill="#808080"/>
<rect x="563.30" y="1607.49" width="9" height="9" fill="#808080"/>
<line x1="661.80" y1="1533.26" x2="661.80" y2="1547.33" stroke="#808080" stroke-width="2.6" />
<line x1="656.70" y1="1533.26" x2="666.90" y2="1533.26" stroke="#808080" stroke-width="2.8" />
<line x1="656.70" y1="1547.33" x2="666.90" y2="1547.33" stroke="#808080" stroke-width="2.8" />
<rect x="657.30" y="1535.79" width="9" height="9" fill="#808080"/>
<line x1="756.20" y1="1422.47" x2="756.20" y2="1439.20" stroke="#808080" stroke-width="2.6" />
<line x1="751.10" y1="1422.47" x2="761.30" y2="1422.47" stroke="#808080" stroke-width="2.8" />
<line x1="751.10" y1="1439.20" x2="761.30" y2="1439.20" stroke="#808080" stroke-width="2.8" />
<rect x="751.70" y="1426.33" width="9" height="9" fill="#808080"/>
<line x1="455.20" y1="1398.00" x2="455.20" y2="1620.10" stroke="#555555" stroke-width="1.2" />
<line x1="449.20" y1="1620.10" x2="455.20" y2="1620.10" stroke="#555555" stroke-width="1.2" />
<text x="442.10" y="1625.10" font-size="14" text-anchor="end" fill="#262626" stroke="#262626" stroke-width="0.06" >0.0</text>
<line x1="449.20" y1="1546.07" x2="455.20" y2="1546.07" stroke="#555555" stroke-width="1.2" />
<text x="442.10" y="1551.07" font-size="14" text-anchor="end" fill="#262626" stroke="#262626" stroke-width="0.06" >0.2</text>
<line x1="449.20" y1="1472.03" x2="455.20" y2="1472.03" stroke="#555555" stroke-width="1.2" />
<text x="442.10" y="1477.03" font-size="14" text-anchor="end" fill="#262626" stroke="#262626" stroke-width="0.06" >0.4</text>
<line x1="449.20" y1="1398.00" x2="455.20" y2="1398.00" stroke="#555555" stroke-width="1.2" />
<text x="442.10" y="1403.00" font-size="14" text-anchor="end" fill="#262626" stroke="#262626" stroke-width="0.06" >0.6</text>
<line x1="449.20" y1="1620.10" x2="776.00" y2="1620.10" stroke="#555555" stroke-width="1.2" />
<line x1="473.60" y1="1620.10" x2="473.60" y2="1626.10" stroke="#555555" stroke-width="1.2" />
<text x="473.60" y="1645.50" font-size="16" text-anchor="middle" fill="#262626" stroke="#262626" stroke-width="0.06" >Null</text>
<line x1="567.80" y1="1620.10" x2="567.80" y2="1626.10" stroke="#555555" stroke-width="1.2" />
<text x="567.80" y="1645.50" font-size="16" text-anchor="middle" fill="#262626" stroke="#262626" stroke-width="0.06" >Low</text>
<line x1="661.80" y1="1620.10" x2="661.80" y2="1626.10" stroke="#555555" stroke-width="1.2" />
<text x="661.80" y="1645.50" font-size="16" text-anchor="middle" fill="#262626" stroke="#262626" stroke-width="0.06" >Mid</text>
<line x1="756.20" y1="1620.10" x2="756.20" y2="1626.10" stroke="#555555" stroke-width="1.2" />
<text x="756.20" y="1645.50" font-size="16" text-anchor="middle" fill="#262626" stroke="#262626" stroke-width="0.06" >High</text>
<text transform="translate(410.20,1509.50) rotate(-90)" font-size="16" text-anchor="middle" fill="#262626" stroke="#262626" stroke-width="0.06">Score Proportion</text>
<line x1="510.80" y1="1447.00" x2="531.20" y2="1447.00" stroke="#808080" stroke-width="2.4" stroke-dasharray="0.01 6" stroke-linecap="round"/>
<rect x="516.50" y="1442.50" width="9" height="9" fill="#808080"/>
<text x="546.80" y="1452.00" font-size="14" text-anchor="start" fill="#262626" stroke="#262626" stroke-width="0.06" >CTRs</text>
<line x1="624.20" y1="1447.00" x2="646.90" y2="1447.00" stroke="#555555" stroke-width="2.2" />
<path d="M635.55,1440.50 L641.15,1452.00 L629.95,1452.00 Z" fill="#555555"/>
<text x="660.20" y="1452.00" font-size="14" text-anchor="start" fill="#262626" stroke="#262626" stroke-width="0.06" >EXM</text>
</svg>
</body></html>
